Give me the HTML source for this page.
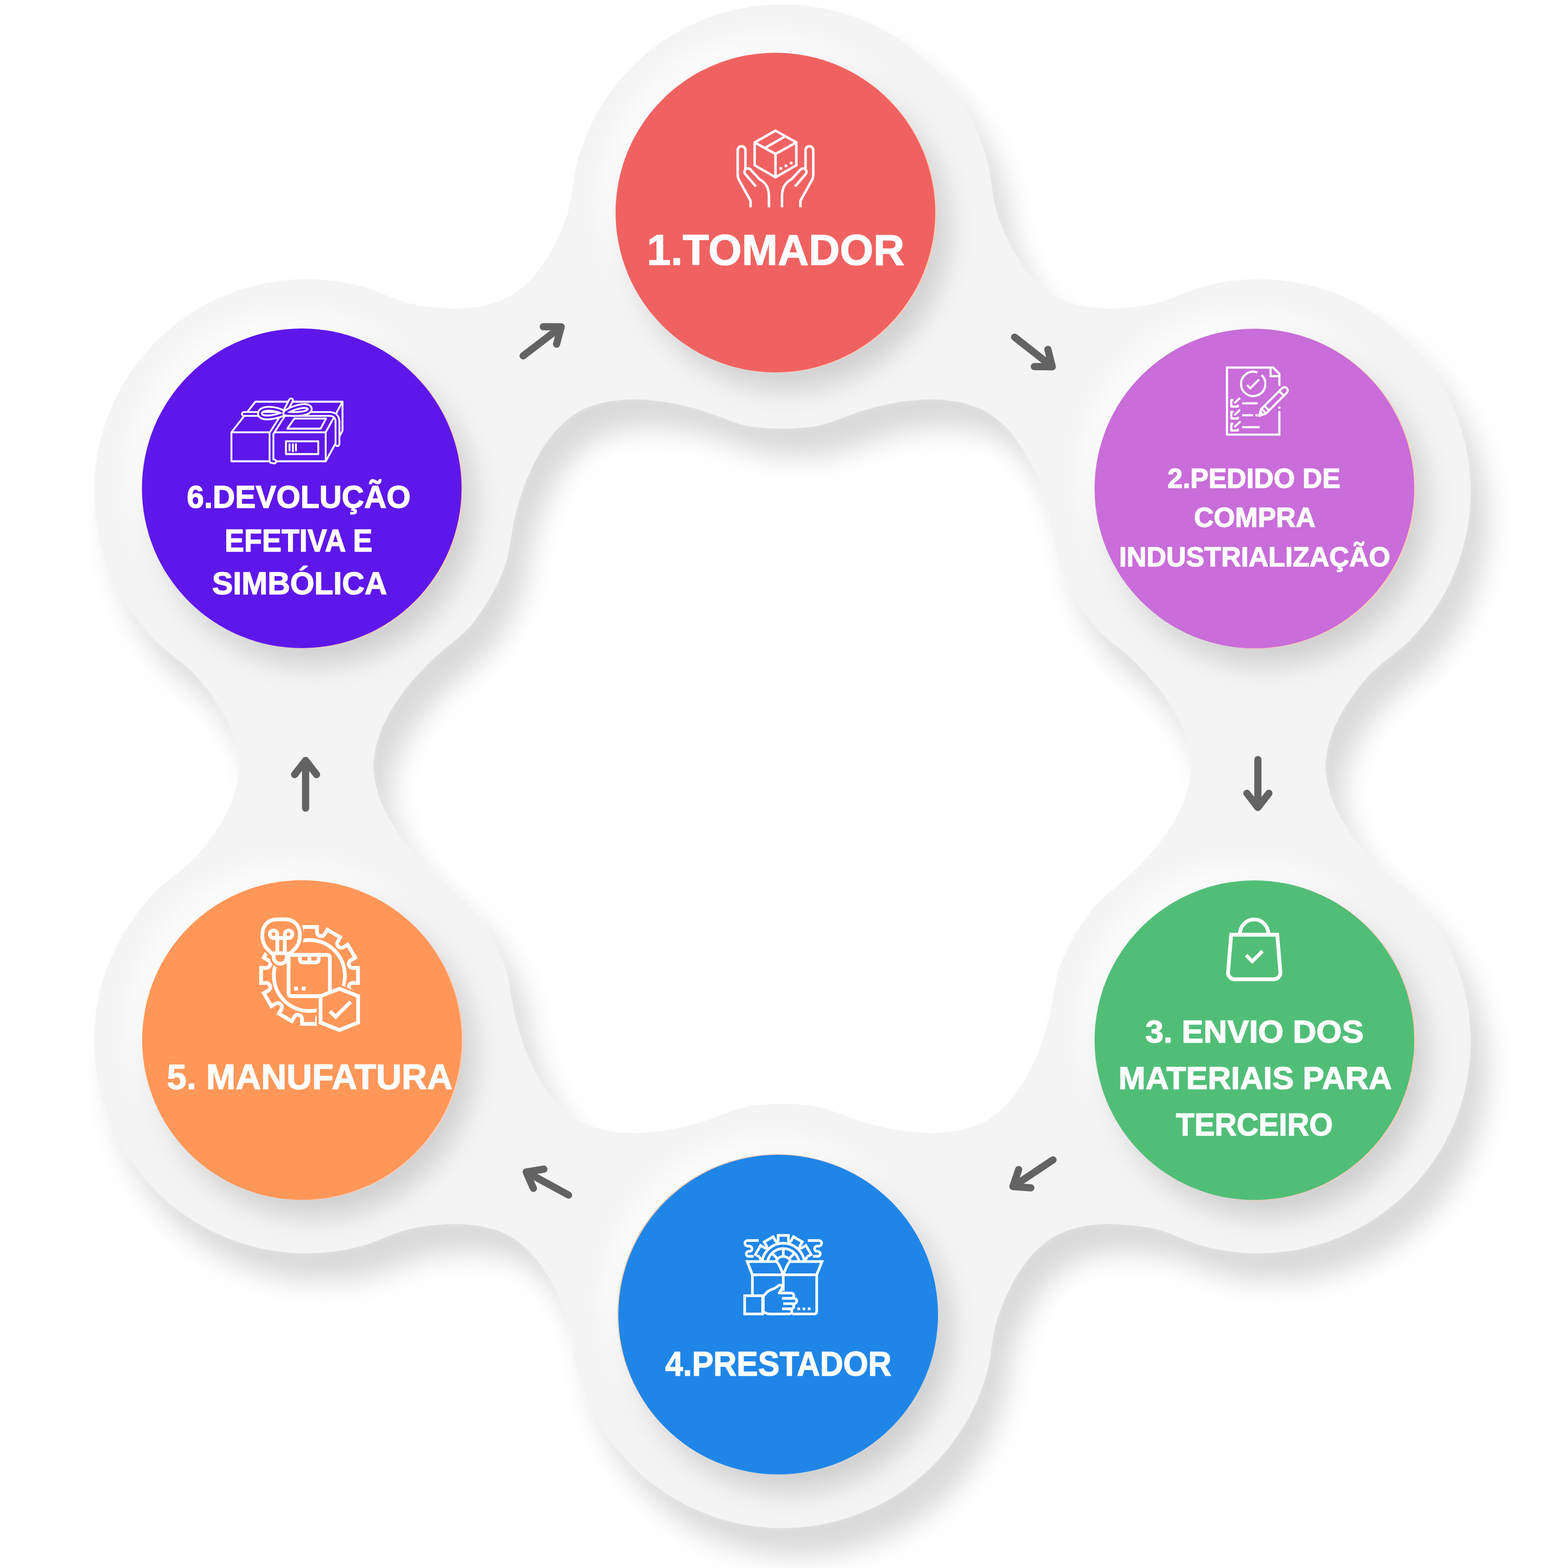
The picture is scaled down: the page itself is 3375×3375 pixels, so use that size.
<!DOCTYPE html>
<html lang="pt-BR">
<head>
<meta charset="utf-8">
<title>Ciclo de Industrialização</title>
<style>
html,body{margin:0;padding:0;background:#fff}
body{width:3375px;height:3375px;overflow:hidden}
svg{display:block}
text{font-family:"Liberation Sans",sans-serif;font-weight:700;fill:#fff}
</style>
</head>
<body>
<svg width="3375" height="3375" viewBox="0 0 3375 3375">
<defs>
<filter id="bs" x="-10%" y="-10%" width="120%" height="120%" color-interpolation-filters="sRGB"><feGaussianBlur stdDeviation="28"/></filter>
<filter id="bh" x="-10%" y="-10%" width="120%" height="120%" color-interpolation-filters="sRGB"><feGaussianBlur stdDeviation="8"/></filter>
<filter id="cs" x="-30%" y="-30%" width="160%" height="160%" color-interpolation-filters="sRGB"><feGaussianBlur stdDeviation="28"/></filter>
<filter id="cg" x="-30%" y="-30%" width="160%" height="160%" color-interpolation-filters="sRGB"><feGaussianBlur stdDeviation="32"/></filter>
<clipPath id="blobclip"><path clip-rule="evenodd" d="M2112.3 307.5 L2115.0 314.9 L2117.5 322.5 L2120.0 330.1 L2122.4 338.0 L2124.8 345.9 L2126.9 354.3 L2128.8 363.0 L2130.4 372.1 L2131.9 381.5 L2133.3 391.1 L2134.7 400.8 L2136.0 410.4 L2137.5 419.9 L2139.1 429.2 L2140.8 438.1 L2142.8 446.7 L2145.0 454.9 L2147.4 462.7 L2150.0 470.2 L2152.7 477.5 L2155.5 484.6 L2158.4 491.7 L2161.3 498.6 L2164.3 505.4 L2167.4 512.2 L2170.5 518.8 L2173.6 525.3 L2176.9 531.7 L2180.2 537.9 L2183.6 544.1 L2187.0 550.1 L2190.6 556.0 L2194.2 561.7 L2197.9 567.3 L2201.7 572.7 L2205.5 578.0 L2209.5 583.2 L2213.5 588.2 L2217.6 593.1 L2221.8 597.8 L2226.1 602.4 L2230.5 606.8 L2234.9 611.1 L2239.5 615.2 L2244.1 619.2 L2248.8 623.1 L2253.6 626.8 L2258.5 630.3 L2263.4 633.7 L2268.6 636.9 L2273.8 639.7 L2279.3 642.3 L2284.8 644.8 L2290.4 647.1 L2296.1 649.2 L2301.8 651.2 L2307.7 653.1 L2313.6 654.8 L2319.6 656.4 L2325.7 657.8 L2331.9 659.1 L2338.2 660.2 L2344.6 661.2 L2351.0 662.0 L2357.6 662.7 L2364.2 663.3 L2370.9 663.7 L2377.6 664.0 L2384.5 664.1 L2391.4 664.1 L2398.4 663.9 L2405.5 663.7 L2412.7 663.3 L2419.9 662.8 L2427.2 662.2 L2434.5 661.4 L2441.9 660.6 L2449.4 659.7 L2456.9 658.6 L2464.5 657.5 L2472.2 656.2 L2480.0 654.7 L2487.9 652.9 L2496.1 650.7 L2504.5 648.1 L2513.2 645.2 L2522.0 641.9 L2531.0 638.4 L2540.0 634.8 L2549.0 631.1 L2558.0 627.5 L2566.9 624.1 L2575.6 621.0 L2584.1 618.3 L2592.4 615.9 L2600.5 614.0 L2608.5 612.1 L2616.4 610.5 L2624.2 608.9 L2631.9 607.5 A456.75 456.75 0 0 1 3060.2 1349.3 L3055.1 1355.3 L3049.9 1361.3 L3044.5 1367.3 L3038.9 1373.3 L3033.2 1379.3 L3027.0 1385.3 L3020.4 1391.3 L3013.3 1397.3 L3005.9 1403.3 L2998.3 1409.3 L2990.6 1415.3 L2983.0 1421.3 L2975.5 1427.3 L2968.2 1433.3 L2961.3 1439.3 L2954.9 1445.3 L2949.0 1451.3 L2943.4 1457.3 L2938.2 1463.3 L2933.2 1469.3 L2928.4 1475.3 L2923.8 1481.3 L2919.2 1487.3 L2914.8 1493.3 L2910.5 1499.3 L2906.3 1505.3 L2902.3 1511.3 L2898.4 1517.3 L2894.6 1523.3 L2891.0 1529.3 L2887.5 1535.3 L2884.2 1541.3 L2881.0 1547.3 L2878.1 1553.3 L2875.2 1559.3 L2872.6 1565.3 L2870.1 1571.3 L2867.7 1577.3 L2865.6 1583.3 L2863.6 1589.3 L2861.7 1595.3 L2860.1 1601.3 L2858.6 1607.3 L2857.3 1613.3 L2856.2 1619.3 L2855.2 1625.3 L2854.4 1631.3 L2853.7 1637.3 L2853.3 1643.3 L2853.1 1649.3 L2853.3 1655.3 L2853.7 1661.3 L2854.4 1667.3 L2855.2 1673.3 L2856.2 1679.3 L2857.3 1685.3 L2858.6 1691.3 L2860.1 1697.3 L2861.7 1703.3 L2863.6 1709.3 L2865.6 1715.3 L2867.7 1721.3 L2870.1 1727.3 L2872.6 1733.3 L2875.2 1739.3 L2878.1 1745.3 L2881.0 1751.3 L2884.2 1757.3 L2887.5 1763.3 L2891.0 1769.3 L2894.6 1775.3 L2898.4 1781.3 L2902.3 1787.3 L2906.3 1793.3 L2910.5 1799.3 L2914.8 1805.3 L2919.2 1811.3 L2923.8 1817.3 L2928.4 1823.3 L2933.2 1829.3 L2938.2 1835.3 L2943.4 1841.3 L2949.0 1847.3 L2954.9 1853.3 L2961.3 1859.3 L2968.2 1865.3 L2975.5 1871.3 L2983.0 1877.3 L2990.6 1883.3 L2998.3 1889.3 L3005.9 1895.3 L3013.3 1901.3 L3020.4 1907.3 L3027.0 1913.3 L3033.2 1919.3 L3038.9 1925.3 L3044.5 1931.3 L3049.9 1937.3 L3055.1 1943.3 L3060.2 1949.3 A456.75 456.75 0 0 1 2631.9 2691.2 L2624.2 2689.8 L2616.4 2688.2 L2608.5 2686.6 L2600.5 2684.7 L2592.4 2682.8 L2584.1 2680.4 L2575.6 2677.7 L2566.9 2674.6 L2558.0 2671.2 L2549.0 2667.6 L2540.0 2663.9 L2531.0 2660.3 L2522.0 2656.8 L2513.2 2653.5 L2504.5 2650.6 L2496.1 2648.0 L2487.9 2645.8 L2480.0 2644.0 L2472.2 2642.5 L2464.5 2641.2 L2456.9 2640.1 L2449.4 2639.0 L2441.9 2638.1 L2434.5 2637.3 L2427.2 2636.5 L2419.9 2635.9 L2412.7 2635.4 L2405.5 2635.0 L2398.4 2634.8 L2391.4 2634.6 L2384.5 2634.6 L2377.6 2634.7 L2370.9 2635.0 L2364.2 2635.4 L2357.6 2636.0 L2351.0 2636.7 L2344.6 2637.5 L2338.2 2638.5 L2331.9 2639.6 L2325.7 2640.9 L2319.6 2642.3 L2313.6 2643.9 L2307.7 2645.6 L2301.8 2647.5 L2296.1 2649.5 L2290.4 2651.6 L2284.8 2653.9 L2279.3 2656.4 L2273.8 2659.0 L2268.6 2661.8 L2263.4 2665.0 L2258.5 2668.4 L2253.6 2671.9 L2248.8 2675.6 L2244.1 2679.5 L2239.5 2683.5 L2234.9 2687.6 L2230.5 2691.9 L2226.1 2696.3 L2221.8 2700.9 L2217.6 2705.6 L2213.5 2710.5 L2209.5 2715.5 L2205.5 2720.7 L2201.7 2726.0 L2197.9 2731.4 L2194.2 2737.0 L2190.6 2742.7 L2187.0 2748.6 L2183.6 2754.6 L2180.2 2760.8 L2176.9 2767.0 L2173.6 2773.4 L2170.5 2779.9 L2167.4 2786.5 L2164.3 2793.3 L2161.3 2800.1 L2158.4 2807.0 L2155.5 2814.1 L2152.7 2821.2 L2150.0 2828.5 L2147.4 2836.0 L2145.0 2843.8 L2142.8 2852.0 L2140.8 2860.6 L2139.1 2869.5 L2137.5 2878.8 L2136.0 2888.3 L2134.7 2897.9 L2133.3 2907.6 L2131.9 2917.2 L2130.4 2926.6 L2128.8 2935.7 L2126.9 2944.4 L2124.8 2952.8 L2122.4 2960.7 L2120.0 2968.6 L2117.5 2976.2 L2115.0 2983.8 L2112.3 2991.2 A456.75 456.75 0 0 1 1255.7 2991.2 L1253.0 2983.8 L1250.5 2976.2 L1248.0 2968.6 L1245.6 2960.7 L1243.2 2952.8 L1241.1 2944.4 L1239.2 2935.7 L1237.6 2926.6 L1236.1 2917.2 L1234.7 2907.6 L1233.3 2897.9 L1232.0 2888.3 L1230.5 2878.8 L1228.9 2869.5 L1227.2 2860.6 L1225.2 2852.0 L1223.0 2843.8 L1220.6 2836.0 L1218.0 2828.5 L1215.3 2821.2 L1212.5 2814.1 L1209.6 2807.0 L1206.7 2800.1 L1203.7 2793.3 L1200.6 2786.5 L1197.5 2779.9 L1194.4 2773.4 L1191.1 2767.0 L1187.8 2760.8 L1184.4 2754.6 L1181.0 2748.6 L1177.4 2742.7 L1173.8 2737.0 L1170.1 2731.4 L1166.3 2726.0 L1162.5 2720.7 L1158.5 2715.5 L1154.5 2710.5 L1150.4 2705.6 L1146.2 2700.9 L1141.9 2696.3 L1137.5 2691.9 L1133.1 2687.6 L1128.5 2683.5 L1123.9 2679.5 L1119.2 2675.6 L1114.4 2671.9 L1109.5 2668.4 L1104.6 2665.0 L1099.4 2661.8 L1094.2 2659.0 L1088.7 2656.4 L1083.2 2653.9 L1077.6 2651.6 L1071.9 2649.5 L1066.2 2647.5 L1060.3 2645.6 L1054.4 2643.9 L1048.4 2642.3 L1042.3 2640.9 L1036.1 2639.6 L1029.8 2638.5 L1023.4 2637.5 L1017.0 2636.7 L1010.4 2636.0 L1003.8 2635.4 L997.1 2635.0 L990.4 2634.7 L983.5 2634.6 L976.6 2634.6 L969.6 2634.8 L962.5 2635.0 L955.3 2635.4 L948.1 2635.9 L940.8 2636.5 L933.5 2637.3 L926.1 2638.1 L918.6 2639.0 L911.1 2640.1 L903.5 2641.2 L895.8 2642.5 L888.0 2644.0 L880.1 2645.8 L871.9 2648.0 L863.5 2650.6 L854.8 2653.5 L846.0 2656.8 L837.0 2660.3 L828.0 2663.9 L819.0 2667.6 L810.0 2671.2 L801.1 2674.6 L792.4 2677.7 L783.9 2680.4 L775.6 2682.8 L767.5 2684.7 L759.5 2686.6 L751.6 2688.2 L743.8 2689.8 L736.1 2691.2 A456.75 456.75 0 0 1 307.8 1949.3 L312.9 1943.3 L318.1 1937.3 L323.5 1931.3 L329.1 1925.3 L334.8 1919.3 L341.0 1913.3 L347.6 1907.3 L354.7 1901.3 L362.1 1895.3 L369.7 1889.3 L377.4 1883.3 L385.0 1877.3 L392.5 1871.3 L399.8 1865.3 L406.7 1859.3 L413.1 1853.3 L419.0 1847.3 L424.6 1841.3 L429.8 1835.3 L434.8 1829.3 L439.6 1823.3 L444.2 1817.3 L448.8 1811.3 L453.2 1805.3 L457.5 1799.3 L461.7 1793.3 L465.7 1787.3 L469.6 1781.3 L473.4 1775.3 L477.0 1769.3 L480.5 1763.3 L483.8 1757.3 L487.0 1751.3 L489.9 1745.3 L492.8 1739.3 L495.4 1733.3 L497.9 1727.3 L500.3 1721.3 L502.4 1715.3 L504.4 1709.3 L506.3 1703.3 L507.9 1697.3 L509.4 1691.3 L510.7 1685.3 L511.8 1679.3 L512.8 1673.3 L513.6 1667.3 L514.3 1661.3 L514.7 1655.3 L514.9 1649.3 L514.7 1643.3 L514.3 1637.3 L513.6 1631.3 L512.8 1625.3 L511.8 1619.3 L510.7 1613.3 L509.4 1607.3 L507.9 1601.3 L506.3 1595.3 L504.4 1589.3 L502.4 1583.3 L500.3 1577.3 L497.9 1571.3 L495.4 1565.3 L492.8 1559.3 L489.9 1553.3 L487.0 1547.3 L483.8 1541.3 L480.5 1535.3 L477.0 1529.3 L473.4 1523.3 L469.6 1517.3 L465.7 1511.3 L461.7 1505.3 L457.5 1499.3 L453.2 1493.3 L448.8 1487.3 L444.2 1481.3 L439.6 1475.3 L434.8 1469.3 L429.8 1463.3 L424.6 1457.3 L419.0 1451.3 L413.1 1445.3 L406.7 1439.3 L399.8 1433.3 L392.5 1427.3 L385.0 1421.3 L377.4 1415.3 L369.7 1409.3 L362.1 1403.3 L354.7 1397.3 L347.6 1391.3 L341.0 1385.3 L334.8 1379.3 L329.1 1373.3 L323.5 1367.3 L318.1 1361.3 L312.9 1355.3 L307.8 1349.3 A456.75 456.75 0 0 1 736.1 607.5 L743.8 608.9 L751.6 610.5 L759.5 612.1 L767.5 614.0 L775.6 615.9 L783.9 618.3 L792.4 621.0 L801.1 624.1 L810.0 627.5 L819.0 631.1 L828.0 634.8 L837.0 638.4 L846.0 641.9 L854.8 645.2 L863.5 648.1 L871.9 650.7 L880.1 652.9 L888.0 654.7 L895.8 656.2 L903.5 657.5 L911.1 658.6 L918.6 659.7 L926.1 660.6 L933.5 661.4 L940.8 662.2 L948.1 662.8 L955.3 663.3 L962.5 663.7 L969.6 663.9 L976.6 664.1 L983.5 664.1 L990.4 664.0 L997.1 663.7 L1003.8 663.3 L1010.4 662.7 L1017.0 662.0 L1023.4 661.2 L1029.8 660.2 L1036.1 659.1 L1042.3 657.8 L1048.4 656.4 L1054.4 654.8 L1060.3 653.1 L1066.2 651.2 L1071.9 649.2 L1077.6 647.1 L1083.2 644.8 L1088.7 642.3 L1094.2 639.7 L1099.4 636.9 L1104.6 633.7 L1109.5 630.3 L1114.4 626.8 L1119.2 623.1 L1123.9 619.2 L1128.5 615.2 L1133.1 611.1 L1137.5 606.8 L1141.9 602.4 L1146.2 597.8 L1150.4 593.1 L1154.5 588.2 L1158.5 583.2 L1162.5 578.0 L1166.3 572.7 L1170.1 567.3 L1173.8 561.7 L1177.4 556.0 L1181.0 550.1 L1184.4 544.1 L1187.8 537.9 L1191.1 531.7 L1194.4 525.3 L1197.5 518.8 L1200.6 512.2 L1203.7 505.4 L1206.7 498.6 L1209.6 491.7 L1212.5 484.6 L1215.3 477.5 L1218.0 470.2 L1220.6 462.7 L1223.0 454.9 L1225.2 446.7 L1227.2 438.1 L1228.9 429.2 L1230.5 419.9 L1232.0 410.4 L1233.3 400.8 L1234.7 391.1 L1236.1 381.5 L1237.6 372.1 L1239.2 363.0 L1241.1 354.3 L1243.2 345.9 L1245.6 338.0 L1248.0 330.1 L1250.5 322.5 L1253.0 314.9 L1255.7 307.5 A456.75 456.75 0 0 1 2112.3 307.5 Z M1738.0 919.7 L1745.4 918.9 L1753.0 917.9 L1760.8 916.4 L1768.8 914.5 L1777.0 912.2 L1785.5 909.6 L1794.1 906.7 L1802.8 903.5 L1811.7 900.2 L1820.6 896.8 L1829.4 893.5 L1838.2 890.2 L1847.0 887.1 L1855.5 884.3 L1863.9 881.8 L1872.1 879.5 L1880.3 877.3 L1888.4 875.3 L1896.4 873.4 L1904.4 871.5 L1912.4 869.8 L1920.3 868.1 L1928.1 866.6 L1935.8 865.2 L1943.4 864.1 L1950.9 863.2 L1958.2 862.4 L1965.6 861.7 L1972.8 861.1 L1980.0 860.6 L1987.2 860.3 L1994.2 860.0 L2001.3 859.8 L2008.2 859.8 L2015.1 859.9 L2021.8 860.2 L2028.5 860.6 L2035.1 861.2 L2041.6 861.9 L2048.1 862.7 L2054.5 863.7 L2060.7 864.8 L2066.9 866.1 L2073.1 867.5 L2079.1 869.1 L2085.0 870.8 L2090.9 872.7 L2096.6 874.7 L2102.3 876.8 L2107.9 879.1 L2113.4 881.6 L2118.8 884.2 L2124.1 887.0 L2129.2 890.2 L2134.2 893.6 L2139.1 897.1 L2143.9 900.8 L2148.6 904.7 L2153.2 908.7 L2157.8 912.8 L2162.2 917.1 L2166.6 921.5 L2170.9 926.1 L2175.1 930.8 L2179.2 935.7 L2183.2 940.7 L2187.1 945.9 L2191.0 951.2 L2194.8 956.6 L2198.5 962.2 L2202.1 967.9 L2205.7 973.8 L2209.1 979.8 L2212.5 986.0 L2215.8 992.3 L2219.0 998.6 L2222.2 1005.1 L2225.4 1011.7 L2228.4 1018.4 L2231.4 1025.2 L2234.4 1032.1 L2237.2 1039.2 L2239.9 1046.6 L2242.5 1054.1 L2245.0 1061.8 L2247.4 1069.5 L2249.8 1077.4 L2252.1 1085.3 L2254.4 1093.3 L2256.7 1101.5 L2258.8 1109.8 L2260.8 1118.3 L2262.6 1127.1 L2264.3 1136.2 L2265.9 1145.5 L2267.4 1154.8 L2268.9 1164.2 L2270.5 1173.5 L2272.1 1182.7 L2273.9 1191.6 L2275.9 1200.2 L2278.0 1208.5 L2280.4 1216.4 L2283.0 1223.9 L2285.8 1230.9 L2288.8 1237.7 A456.75 456.75 0 0 0 2342.9 1331.3 L2347.3 1337.3 L2352.0 1343.3 L2357.1 1349.3 L2362.8 1355.3 L2368.9 1361.3 L2375.4 1367.3 L2382.2 1373.3 L2389.3 1379.3 L2396.6 1385.3 L2404.0 1391.3 L2411.3 1397.3 L2418.6 1403.3 L2425.6 1409.3 L2432.3 1415.3 L2438.7 1421.3 L2444.8 1427.3 L2450.7 1433.3 L2456.5 1439.3 L2462.2 1445.3 L2467.8 1451.3 L2473.4 1457.3 L2478.7 1463.3 L2484.0 1469.3 L2489.0 1475.3 L2493.7 1481.3 L2498.3 1487.3 L2502.7 1493.3 L2506.9 1499.3 L2511.0 1505.3 L2515.0 1511.3 L2519.0 1517.3 L2522.7 1523.3 L2526.4 1529.3 L2529.9 1535.3 L2533.2 1541.3 L2536.3 1547.3 L2539.3 1553.3 L2542.1 1559.3 L2544.8 1565.3 L2547.3 1571.3 L2549.6 1577.3 L2551.8 1583.3 L2553.8 1589.3 L2555.6 1595.3 L2557.3 1601.3 L2558.8 1607.3 L2560.1 1613.3 L2561.2 1619.3 L2562.2 1625.3 L2563.0 1631.3 L2563.6 1637.3 L2564.1 1643.3 L2564.2 1649.3 L2564.1 1655.3 L2563.6 1661.3 L2563.0 1667.3 L2562.2 1673.3 L2561.2 1679.3 L2560.1 1685.3 L2558.8 1691.3 L2557.3 1697.3 L2555.6 1703.3 L2553.8 1709.3 L2551.8 1715.3 L2549.6 1721.3 L2547.3 1727.3 L2544.8 1733.3 L2542.1 1739.3 L2539.3 1745.3 L2536.3 1751.3 L2533.2 1757.3 L2529.9 1763.3 L2526.4 1769.3 L2522.7 1775.3 L2519.0 1781.3 L2515.0 1787.3 L2511.0 1793.3 L2506.9 1799.3 L2502.7 1805.3 L2498.3 1811.3 L2493.7 1817.3 L2489.0 1823.3 L2484.0 1829.3 L2478.7 1835.3 L2473.4 1841.3 L2467.8 1847.3 L2462.2 1853.3 L2456.5 1859.3 L2450.7 1865.3 L2444.8 1871.3 L2438.7 1877.3 L2432.3 1883.3 L2425.6 1889.3 L2418.6 1895.3 L2411.3 1901.3 L2404.0 1907.3 L2396.6 1913.3 L2389.3 1919.3 L2382.2 1925.3 L2375.4 1931.3 L2368.9 1937.3 L2362.8 1943.3 L2357.1 1949.3 L2352.0 1955.3 L2347.3 1961.3 L2342.9 1967.3 A456.75 456.75 0 0 0 2288.8 2061.0 L2285.8 2067.8 L2283.0 2074.8 L2280.4 2082.3 L2278.0 2090.2 L2275.9 2098.5 L2273.9 2107.1 L2272.1 2116.0 L2270.5 2125.2 L2268.9 2134.5 L2267.4 2143.9 L2265.9 2153.2 L2264.3 2162.5 L2262.6 2171.6 L2260.8 2180.4 L2258.8 2188.9 L2256.7 2197.2 L2254.4 2205.4 L2252.1 2213.4 L2249.8 2221.3 L2247.4 2229.2 L2245.0 2236.9 L2242.5 2244.6 L2239.9 2252.1 L2237.2 2259.5 L2234.4 2266.6 L2231.4 2273.5 L2228.4 2280.3 L2225.4 2287.0 L2222.2 2293.6 L2219.0 2300.1 L2215.8 2306.4 L2212.5 2312.7 L2209.1 2318.9 L2205.7 2324.9 L2202.1 2330.8 L2198.5 2336.5 L2194.8 2342.1 L2191.0 2347.5 L2187.1 2352.8 L2183.2 2358.0 L2179.2 2363.0 L2175.1 2367.9 L2170.9 2372.6 L2166.6 2377.2 L2162.2 2381.6 L2157.8 2385.9 L2153.2 2390.0 L2148.6 2394.0 L2143.9 2397.9 L2139.1 2401.6 L2134.2 2405.1 L2129.2 2408.5 L2124.1 2411.7 L2118.8 2414.5 L2113.4 2417.1 L2107.9 2419.6 L2102.3 2421.9 L2096.6 2424.0 L2090.9 2426.0 L2085.0 2427.9 L2079.1 2429.6 L2073.1 2431.2 L2066.9 2432.6 L2060.7 2433.9 L2054.5 2435.0 L2048.1 2436.0 L2041.6 2436.8 L2035.1 2437.5 L2028.5 2438.1 L2021.8 2438.5 L2015.1 2438.8 L2008.2 2438.9 L2001.3 2438.9 L1994.2 2438.7 L1987.2 2438.4 L1980.0 2438.1 L1972.8 2437.6 L1965.6 2437.0 L1958.2 2436.3 L1950.9 2435.5 L1943.4 2434.6 L1935.8 2433.5 L1928.1 2432.1 L1920.3 2430.6 L1912.4 2428.9 L1904.4 2427.2 L1896.4 2425.3 L1888.4 2423.4 L1880.3 2421.4 L1872.1 2419.2 L1863.9 2416.9 L1855.5 2414.4 L1847.0 2411.6 L1838.2 2408.5 L1829.4 2405.2 L1820.6 2401.9 L1811.7 2398.5 L1802.8 2395.2 L1794.1 2392.0 L1785.5 2389.1 L1777.0 2386.5 L1768.8 2384.2 L1760.8 2382.3 L1753.0 2380.8 L1745.4 2379.8 L1738.0 2379.0 A456.75 456.75 0 0 0 1630.0 2379.0 L1622.6 2379.8 L1615.0 2380.8 L1607.2 2382.3 L1599.2 2384.2 L1591.0 2386.5 L1582.5 2389.1 L1573.9 2392.0 L1565.2 2395.2 L1556.3 2398.5 L1547.4 2401.9 L1538.6 2405.2 L1529.8 2408.5 L1521.0 2411.6 L1512.5 2414.4 L1504.1 2416.9 L1495.9 2419.2 L1487.7 2421.4 L1479.6 2423.4 L1471.6 2425.3 L1463.6 2427.2 L1455.6 2428.9 L1447.7 2430.6 L1439.9 2432.1 L1432.2 2433.5 L1424.6 2434.6 L1417.1 2435.5 L1409.8 2436.3 L1402.4 2437.0 L1395.2 2437.6 L1388.0 2438.1 L1380.8 2438.4 L1373.8 2438.7 L1366.7 2438.9 L1359.8 2438.9 L1352.9 2438.8 L1346.2 2438.5 L1339.5 2438.1 L1332.9 2437.5 L1326.4 2436.8 L1319.9 2436.0 L1313.5 2435.0 L1307.3 2433.9 L1301.1 2432.6 L1294.9 2431.2 L1288.9 2429.6 L1283.0 2427.9 L1277.1 2426.0 L1271.4 2424.0 L1265.7 2421.9 L1260.1 2419.6 L1254.6 2417.1 L1249.2 2414.5 L1243.9 2411.7 L1238.8 2408.5 L1233.8 2405.1 L1228.9 2401.6 L1224.1 2397.9 L1219.4 2394.0 L1214.8 2390.0 L1210.2 2385.9 L1205.8 2381.6 L1201.4 2377.2 L1197.1 2372.6 L1192.9 2367.9 L1188.8 2363.0 L1184.8 2358.0 L1180.9 2352.8 L1177.0 2347.5 L1173.2 2342.1 L1169.5 2336.5 L1165.9 2330.8 L1162.3 2324.9 L1158.9 2318.9 L1155.5 2312.7 L1152.2 2306.4 L1149.0 2300.1 L1145.8 2293.6 L1142.6 2287.0 L1139.6 2280.3 L1136.6 2273.5 L1133.6 2266.6 L1130.8 2259.5 L1128.1 2252.1 L1125.5 2244.6 L1123.0 2236.9 L1120.6 2229.2 L1118.2 2221.3 L1115.9 2213.4 L1113.6 2205.4 L1111.3 2197.2 L1109.2 2188.9 L1107.2 2180.4 L1105.4 2171.6 L1103.7 2162.5 L1102.1 2153.2 L1100.6 2143.9 L1099.1 2134.5 L1097.5 2125.2 L1095.9 2116.0 L1094.1 2107.1 L1092.1 2098.5 L1090.0 2090.2 L1087.6 2082.3 L1085.0 2074.8 L1082.2 2067.8 L1079.2 2061.0 A456.75 456.75 0 0 0 1025.1 1967.3 L1020.7 1961.3 L1016.0 1955.3 L1010.9 1949.3 L1005.2 1943.3 L999.1 1937.3 L992.6 1931.3 L985.8 1925.3 L978.7 1919.3 L971.4 1913.3 L964.0 1907.3 L956.7 1901.3 L949.4 1895.3 L942.4 1889.3 L935.7 1883.3 L929.3 1877.3 L923.2 1871.3 L917.3 1865.3 L911.5 1859.3 L905.8 1853.3 L900.2 1847.3 L894.6 1841.3 L889.3 1835.3 L884.0 1829.3 L879.0 1823.3 L874.3 1817.3 L869.7 1811.3 L865.3 1805.3 L861.1 1799.3 L857.0 1793.3 L853.0 1787.3 L849.0 1781.3 L845.3 1775.3 L841.6 1769.3 L838.1 1763.3 L834.8 1757.3 L831.7 1751.3 L828.7 1745.3 L825.9 1739.3 L823.2 1733.3 L820.7 1727.3 L818.4 1721.3 L816.2 1715.3 L814.2 1709.3 L812.4 1703.3 L810.7 1697.3 L809.2 1691.3 L807.9 1685.3 L806.8 1679.3 L805.8 1673.3 L805.0 1667.3 L804.4 1661.3 L803.9 1655.3 L803.8 1649.3 L803.9 1643.3 L804.4 1637.3 L805.0 1631.3 L805.8 1625.3 L806.8 1619.3 L807.9 1613.3 L809.2 1607.3 L810.7 1601.3 L812.4 1595.3 L814.2 1589.3 L816.2 1583.3 L818.4 1577.3 L820.7 1571.3 L823.2 1565.3 L825.9 1559.3 L828.7 1553.3 L831.7 1547.3 L834.8 1541.3 L838.1 1535.3 L841.6 1529.3 L845.3 1523.3 L849.0 1517.3 L853.0 1511.3 L857.0 1505.3 L861.1 1499.3 L865.3 1493.3 L869.7 1487.3 L874.3 1481.3 L879.0 1475.3 L884.0 1469.3 L889.3 1463.3 L894.6 1457.3 L900.2 1451.3 L905.8 1445.3 L911.5 1439.3 L917.3 1433.3 L923.2 1427.3 L929.3 1421.3 L935.7 1415.3 L942.4 1409.3 L949.4 1403.3 L956.7 1397.3 L964.0 1391.3 L971.4 1385.3 L978.7 1379.3 L985.8 1373.3 L992.6 1367.3 L999.1 1361.3 L1005.2 1355.3 L1010.9 1349.3 L1016.0 1343.3 L1020.7 1337.3 L1025.1 1331.3 A456.75 456.75 0 0 0 1079.2 1237.7 L1082.2 1230.9 L1085.0 1223.9 L1087.6 1216.4 L1090.0 1208.5 L1092.1 1200.2 L1094.1 1191.6 L1095.9 1182.7 L1097.5 1173.5 L1099.1 1164.2 L1100.6 1154.8 L1102.1 1145.5 L1103.7 1136.2 L1105.4 1127.1 L1107.2 1118.3 L1109.2 1109.8 L1111.3 1101.5 L1113.6 1093.3 L1115.9 1085.3 L1118.2 1077.4 L1120.6 1069.5 L1123.0 1061.8 L1125.5 1054.1 L1128.1 1046.6 L1130.8 1039.2 L1133.6 1032.1 L1136.6 1025.2 L1139.6 1018.4 L1142.6 1011.7 L1145.8 1005.1 L1149.0 998.6 L1152.2 992.3 L1155.5 986.0 L1158.9 979.8 L1162.3 973.8 L1165.9 967.9 L1169.5 962.2 L1173.2 956.6 L1177.0 951.2 L1180.9 945.9 L1184.8 940.7 L1188.8 935.7 L1192.9 930.8 L1197.1 926.1 L1201.4 921.5 L1205.8 917.1 L1210.2 912.8 L1214.8 908.7 L1219.4 904.7 L1224.1 900.8 L1228.9 897.1 L1233.8 893.6 L1238.8 890.2 L1243.9 887.0 L1249.2 884.2 L1254.6 881.6 L1260.1 879.1 L1265.7 876.8 L1271.4 874.7 L1277.1 872.7 L1283.0 870.8 L1288.9 869.1 L1294.9 867.5 L1301.1 866.1 L1307.3 864.8 L1313.5 863.7 L1319.9 862.7 L1326.4 861.9 L1332.9 861.2 L1339.5 860.6 L1346.2 860.2 L1352.9 859.9 L1359.8 859.8 L1366.7 859.8 L1373.8 860.0 L1380.8 860.3 L1388.0 860.6 L1395.2 861.1 L1402.4 861.7 L1409.8 862.4 L1417.1 863.2 L1424.6 864.1 L1432.2 865.2 L1439.9 866.6 L1447.7 868.1 L1455.6 869.8 L1463.6 871.5 L1471.6 873.4 L1479.6 875.3 L1487.7 877.3 L1495.9 879.5 L1504.1 881.8 L1512.5 884.3 L1521.0 887.1 L1529.8 890.2 L1538.6 893.5 L1547.4 896.8 L1556.3 900.2 L1565.2 903.5 L1573.9 906.7 L1582.5 909.6 L1591.0 912.2 L1599.2 914.5 L1607.2 916.4 L1615.0 917.9 L1622.6 918.9 L1630.0 919.7 A456.75 456.75 0 0 0 1738.0 919.7 Z"/></clipPath>
</defs>
<rect width="3375" height="3375" fill="#fff"/>
<g filter="url(#bs)"><path fill-rule="evenodd" fill="#000" fill-opacity="0.15" transform="translate(36 60)" d="M2112.3 307.5 L2115.0 314.9 L2117.5 322.5 L2120.0 330.1 L2122.4 338.0 L2124.8 345.9 L2126.9 354.3 L2128.8 363.0 L2130.4 372.1 L2131.9 381.5 L2133.3 391.1 L2134.7 400.8 L2136.0 410.4 L2137.5 419.9 L2139.1 429.2 L2140.8 438.1 L2142.8 446.7 L2145.0 454.9 L2147.4 462.7 L2150.0 470.2 L2152.7 477.5 L2155.5 484.6 L2158.4 491.7 L2161.3 498.6 L2164.3 505.4 L2167.4 512.2 L2170.5 518.8 L2173.6 525.3 L2176.9 531.7 L2180.2 537.9 L2183.6 544.1 L2187.0 550.1 L2190.6 556.0 L2194.2 561.7 L2197.9 567.3 L2201.7 572.7 L2205.5 578.0 L2209.5 583.2 L2213.5 588.2 L2217.6 593.1 L2221.8 597.8 L2226.1 602.4 L2230.5 606.8 L2234.9 611.1 L2239.5 615.2 L2244.1 619.2 L2248.8 623.1 L2253.6 626.8 L2258.5 630.3 L2263.4 633.7 L2268.6 636.9 L2273.8 639.7 L2279.3 642.3 L2284.8 644.8 L2290.4 647.1 L2296.1 649.2 L2301.8 651.2 L2307.7 653.1 L2313.6 654.8 L2319.6 656.4 L2325.7 657.8 L2331.9 659.1 L2338.2 660.2 L2344.6 661.2 L2351.0 662.0 L2357.6 662.7 L2364.2 663.3 L2370.9 663.7 L2377.6 664.0 L2384.5 664.1 L2391.4 664.1 L2398.4 663.9 L2405.5 663.7 L2412.7 663.3 L2419.9 662.8 L2427.2 662.2 L2434.5 661.4 L2441.9 660.6 L2449.4 659.7 L2456.9 658.6 L2464.5 657.5 L2472.2 656.2 L2480.0 654.7 L2487.9 652.9 L2496.1 650.7 L2504.5 648.1 L2513.2 645.2 L2522.0 641.9 L2531.0 638.4 L2540.0 634.8 L2549.0 631.1 L2558.0 627.5 L2566.9 624.1 L2575.6 621.0 L2584.1 618.3 L2592.4 615.9 L2600.5 614.0 L2608.5 612.1 L2616.4 610.5 L2624.2 608.9 L2631.9 607.5 A456.75 456.75 0 0 1 3060.2 1349.3 L3055.1 1355.3 L3049.9 1361.3 L3044.5 1367.3 L3038.9 1373.3 L3033.2 1379.3 L3027.0 1385.3 L3020.4 1391.3 L3013.3 1397.3 L3005.9 1403.3 L2998.3 1409.3 L2990.6 1415.3 L2983.0 1421.3 L2975.5 1427.3 L2968.2 1433.3 L2961.3 1439.3 L2954.9 1445.3 L2949.0 1451.3 L2943.4 1457.3 L2938.2 1463.3 L2933.2 1469.3 L2928.4 1475.3 L2923.8 1481.3 L2919.2 1487.3 L2914.8 1493.3 L2910.5 1499.3 L2906.3 1505.3 L2902.3 1511.3 L2898.4 1517.3 L2894.6 1523.3 L2891.0 1529.3 L2887.5 1535.3 L2884.2 1541.3 L2881.0 1547.3 L2878.1 1553.3 L2875.2 1559.3 L2872.6 1565.3 L2870.1 1571.3 L2867.7 1577.3 L2865.6 1583.3 L2863.6 1589.3 L2861.7 1595.3 L2860.1 1601.3 L2858.6 1607.3 L2857.3 1613.3 L2856.2 1619.3 L2855.2 1625.3 L2854.4 1631.3 L2853.7 1637.3 L2853.3 1643.3 L2853.1 1649.3 L2853.3 1655.3 L2853.7 1661.3 L2854.4 1667.3 L2855.2 1673.3 L2856.2 1679.3 L2857.3 1685.3 L2858.6 1691.3 L2860.1 1697.3 L2861.7 1703.3 L2863.6 1709.3 L2865.6 1715.3 L2867.7 1721.3 L2870.1 1727.3 L2872.6 1733.3 L2875.2 1739.3 L2878.1 1745.3 L2881.0 1751.3 L2884.2 1757.3 L2887.5 1763.3 L2891.0 1769.3 L2894.6 1775.3 L2898.4 1781.3 L2902.3 1787.3 L2906.3 1793.3 L2910.5 1799.3 L2914.8 1805.3 L2919.2 1811.3 L2923.8 1817.3 L2928.4 1823.3 L2933.2 1829.3 L2938.2 1835.3 L2943.4 1841.3 L2949.0 1847.3 L2954.9 1853.3 L2961.3 1859.3 L2968.2 1865.3 L2975.5 1871.3 L2983.0 1877.3 L2990.6 1883.3 L2998.3 1889.3 L3005.9 1895.3 L3013.3 1901.3 L3020.4 1907.3 L3027.0 1913.3 L3033.2 1919.3 L3038.9 1925.3 L3044.5 1931.3 L3049.9 1937.3 L3055.1 1943.3 L3060.2 1949.3 A456.75 456.75 0 0 1 2631.9 2691.2 L2624.2 2689.8 L2616.4 2688.2 L2608.5 2686.6 L2600.5 2684.7 L2592.4 2682.8 L2584.1 2680.4 L2575.6 2677.7 L2566.9 2674.6 L2558.0 2671.2 L2549.0 2667.6 L2540.0 2663.9 L2531.0 2660.3 L2522.0 2656.8 L2513.2 2653.5 L2504.5 2650.6 L2496.1 2648.0 L2487.9 2645.8 L2480.0 2644.0 L2472.2 2642.5 L2464.5 2641.2 L2456.9 2640.1 L2449.4 2639.0 L2441.9 2638.1 L2434.5 2637.3 L2427.2 2636.5 L2419.9 2635.9 L2412.7 2635.4 L2405.5 2635.0 L2398.4 2634.8 L2391.4 2634.6 L2384.5 2634.6 L2377.6 2634.7 L2370.9 2635.0 L2364.2 2635.4 L2357.6 2636.0 L2351.0 2636.7 L2344.6 2637.5 L2338.2 2638.5 L2331.9 2639.6 L2325.7 2640.9 L2319.6 2642.3 L2313.6 2643.9 L2307.7 2645.6 L2301.8 2647.5 L2296.1 2649.5 L2290.4 2651.6 L2284.8 2653.9 L2279.3 2656.4 L2273.8 2659.0 L2268.6 2661.8 L2263.4 2665.0 L2258.5 2668.4 L2253.6 2671.9 L2248.8 2675.6 L2244.1 2679.5 L2239.5 2683.5 L2234.9 2687.6 L2230.5 2691.9 L2226.1 2696.3 L2221.8 2700.9 L2217.6 2705.6 L2213.5 2710.5 L2209.5 2715.5 L2205.5 2720.7 L2201.7 2726.0 L2197.9 2731.4 L2194.2 2737.0 L2190.6 2742.7 L2187.0 2748.6 L2183.6 2754.6 L2180.2 2760.8 L2176.9 2767.0 L2173.6 2773.4 L2170.5 2779.9 L2167.4 2786.5 L2164.3 2793.3 L2161.3 2800.1 L2158.4 2807.0 L2155.5 2814.1 L2152.7 2821.2 L2150.0 2828.5 L2147.4 2836.0 L2145.0 2843.8 L2142.8 2852.0 L2140.8 2860.6 L2139.1 2869.5 L2137.5 2878.8 L2136.0 2888.3 L2134.7 2897.9 L2133.3 2907.6 L2131.9 2917.2 L2130.4 2926.6 L2128.8 2935.7 L2126.9 2944.4 L2124.8 2952.8 L2122.4 2960.7 L2120.0 2968.6 L2117.5 2976.2 L2115.0 2983.8 L2112.3 2991.2 A456.75 456.75 0 0 1 1255.7 2991.2 L1253.0 2983.8 L1250.5 2976.2 L1248.0 2968.6 L1245.6 2960.7 L1243.2 2952.8 L1241.1 2944.4 L1239.2 2935.7 L1237.6 2926.6 L1236.1 2917.2 L1234.7 2907.6 L1233.3 2897.9 L1232.0 2888.3 L1230.5 2878.8 L1228.9 2869.5 L1227.2 2860.6 L1225.2 2852.0 L1223.0 2843.8 L1220.6 2836.0 L1218.0 2828.5 L1215.3 2821.2 L1212.5 2814.1 L1209.6 2807.0 L1206.7 2800.1 L1203.7 2793.3 L1200.6 2786.5 L1197.5 2779.9 L1194.4 2773.4 L1191.1 2767.0 L1187.8 2760.8 L1184.4 2754.6 L1181.0 2748.6 L1177.4 2742.7 L1173.8 2737.0 L1170.1 2731.4 L1166.3 2726.0 L1162.5 2720.7 L1158.5 2715.5 L1154.5 2710.5 L1150.4 2705.6 L1146.2 2700.9 L1141.9 2696.3 L1137.5 2691.9 L1133.1 2687.6 L1128.5 2683.5 L1123.9 2679.5 L1119.2 2675.6 L1114.4 2671.9 L1109.5 2668.4 L1104.6 2665.0 L1099.4 2661.8 L1094.2 2659.0 L1088.7 2656.4 L1083.2 2653.9 L1077.6 2651.6 L1071.9 2649.5 L1066.2 2647.5 L1060.3 2645.6 L1054.4 2643.9 L1048.4 2642.3 L1042.3 2640.9 L1036.1 2639.6 L1029.8 2638.5 L1023.4 2637.5 L1017.0 2636.7 L1010.4 2636.0 L1003.8 2635.4 L997.1 2635.0 L990.4 2634.7 L983.5 2634.6 L976.6 2634.6 L969.6 2634.8 L962.5 2635.0 L955.3 2635.4 L948.1 2635.9 L940.8 2636.5 L933.5 2637.3 L926.1 2638.1 L918.6 2639.0 L911.1 2640.1 L903.5 2641.2 L895.8 2642.5 L888.0 2644.0 L880.1 2645.8 L871.9 2648.0 L863.5 2650.6 L854.8 2653.5 L846.0 2656.8 L837.0 2660.3 L828.0 2663.9 L819.0 2667.6 L810.0 2671.2 L801.1 2674.6 L792.4 2677.7 L783.9 2680.4 L775.6 2682.8 L767.5 2684.7 L759.5 2686.6 L751.6 2688.2 L743.8 2689.8 L736.1 2691.2 A456.75 456.75 0 0 1 307.8 1949.3 L312.9 1943.3 L318.1 1937.3 L323.5 1931.3 L329.1 1925.3 L334.8 1919.3 L341.0 1913.3 L347.6 1907.3 L354.7 1901.3 L362.1 1895.3 L369.7 1889.3 L377.4 1883.3 L385.0 1877.3 L392.5 1871.3 L399.8 1865.3 L406.7 1859.3 L413.1 1853.3 L419.0 1847.3 L424.6 1841.3 L429.8 1835.3 L434.8 1829.3 L439.6 1823.3 L444.2 1817.3 L448.8 1811.3 L453.2 1805.3 L457.5 1799.3 L461.7 1793.3 L465.7 1787.3 L469.6 1781.3 L473.4 1775.3 L477.0 1769.3 L480.5 1763.3 L483.8 1757.3 L487.0 1751.3 L489.9 1745.3 L492.8 1739.3 L495.4 1733.3 L497.9 1727.3 L500.3 1721.3 L502.4 1715.3 L504.4 1709.3 L506.3 1703.3 L507.9 1697.3 L509.4 1691.3 L510.7 1685.3 L511.8 1679.3 L512.8 1673.3 L513.6 1667.3 L514.3 1661.3 L514.7 1655.3 L514.9 1649.3 L514.7 1643.3 L514.3 1637.3 L513.6 1631.3 L512.8 1625.3 L511.8 1619.3 L510.7 1613.3 L509.4 1607.3 L507.9 1601.3 L506.3 1595.3 L504.4 1589.3 L502.4 1583.3 L500.3 1577.3 L497.9 1571.3 L495.4 1565.3 L492.8 1559.3 L489.9 1553.3 L487.0 1547.3 L483.8 1541.3 L480.5 1535.3 L477.0 1529.3 L473.4 1523.3 L469.6 1517.3 L465.7 1511.3 L461.7 1505.3 L457.5 1499.3 L453.2 1493.3 L448.8 1487.3 L444.2 1481.3 L439.6 1475.3 L434.8 1469.3 L429.8 1463.3 L424.6 1457.3 L419.0 1451.3 L413.1 1445.3 L406.7 1439.3 L399.8 1433.3 L392.5 1427.3 L385.0 1421.3 L377.4 1415.3 L369.7 1409.3 L362.1 1403.3 L354.7 1397.3 L347.6 1391.3 L341.0 1385.3 L334.8 1379.3 L329.1 1373.3 L323.5 1367.3 L318.1 1361.3 L312.9 1355.3 L307.8 1349.3 A456.75 456.75 0 0 1 736.1 607.5 L743.8 608.9 L751.6 610.5 L759.5 612.1 L767.5 614.0 L775.6 615.9 L783.9 618.3 L792.4 621.0 L801.1 624.1 L810.0 627.5 L819.0 631.1 L828.0 634.8 L837.0 638.4 L846.0 641.9 L854.8 645.2 L863.5 648.1 L871.9 650.7 L880.1 652.9 L888.0 654.7 L895.8 656.2 L903.5 657.5 L911.1 658.6 L918.6 659.7 L926.1 660.6 L933.5 661.4 L940.8 662.2 L948.1 662.8 L955.3 663.3 L962.5 663.7 L969.6 663.9 L976.6 664.1 L983.5 664.1 L990.4 664.0 L997.1 663.7 L1003.8 663.3 L1010.4 662.7 L1017.0 662.0 L1023.4 661.2 L1029.8 660.2 L1036.1 659.1 L1042.3 657.8 L1048.4 656.4 L1054.4 654.8 L1060.3 653.1 L1066.2 651.2 L1071.9 649.2 L1077.6 647.1 L1083.2 644.8 L1088.7 642.3 L1094.2 639.7 L1099.4 636.9 L1104.6 633.7 L1109.5 630.3 L1114.4 626.8 L1119.2 623.1 L1123.9 619.2 L1128.5 615.2 L1133.1 611.1 L1137.5 606.8 L1141.9 602.4 L1146.2 597.8 L1150.4 593.1 L1154.5 588.2 L1158.5 583.2 L1162.5 578.0 L1166.3 572.7 L1170.1 567.3 L1173.8 561.7 L1177.4 556.0 L1181.0 550.1 L1184.4 544.1 L1187.8 537.9 L1191.1 531.7 L1194.4 525.3 L1197.5 518.8 L1200.6 512.2 L1203.7 505.4 L1206.7 498.6 L1209.6 491.7 L1212.5 484.6 L1215.3 477.5 L1218.0 470.2 L1220.6 462.7 L1223.0 454.9 L1225.2 446.7 L1227.2 438.1 L1228.9 429.2 L1230.5 419.9 L1232.0 410.4 L1233.3 400.8 L1234.7 391.1 L1236.1 381.5 L1237.6 372.1 L1239.2 363.0 L1241.1 354.3 L1243.2 345.9 L1245.6 338.0 L1248.0 330.1 L1250.5 322.5 L1253.0 314.9 L1255.7 307.5 A456.75 456.75 0 0 1 2112.3 307.5 Z M1738.0 919.7 L1745.4 918.9 L1753.0 917.9 L1760.8 916.4 L1768.8 914.5 L1777.0 912.2 L1785.5 909.6 L1794.1 906.7 L1802.8 903.5 L1811.7 900.2 L1820.6 896.8 L1829.4 893.5 L1838.2 890.2 L1847.0 887.1 L1855.5 884.3 L1863.9 881.8 L1872.1 879.5 L1880.3 877.3 L1888.4 875.3 L1896.4 873.4 L1904.4 871.5 L1912.4 869.8 L1920.3 868.1 L1928.1 866.6 L1935.8 865.2 L1943.4 864.1 L1950.9 863.2 L1958.2 862.4 L1965.6 861.7 L1972.8 861.1 L1980.0 860.6 L1987.2 860.3 L1994.2 860.0 L2001.3 859.8 L2008.2 859.8 L2015.1 859.9 L2021.8 860.2 L2028.5 860.6 L2035.1 861.2 L2041.6 861.9 L2048.1 862.7 L2054.5 863.7 L2060.7 864.8 L2066.9 866.1 L2073.1 867.5 L2079.1 869.1 L2085.0 870.8 L2090.9 872.7 L2096.6 874.7 L2102.3 876.8 L2107.9 879.1 L2113.4 881.6 L2118.8 884.2 L2124.1 887.0 L2129.2 890.2 L2134.2 893.6 L2139.1 897.1 L2143.9 900.8 L2148.6 904.7 L2153.2 908.7 L2157.8 912.8 L2162.2 917.1 L2166.6 921.5 L2170.9 926.1 L2175.1 930.8 L2179.2 935.7 L2183.2 940.7 L2187.1 945.9 L2191.0 951.2 L2194.8 956.6 L2198.5 962.2 L2202.1 967.9 L2205.7 973.8 L2209.1 979.8 L2212.5 986.0 L2215.8 992.3 L2219.0 998.6 L2222.2 1005.1 L2225.4 1011.7 L2228.4 1018.4 L2231.4 1025.2 L2234.4 1032.1 L2237.2 1039.2 L2239.9 1046.6 L2242.5 1054.1 L2245.0 1061.8 L2247.4 1069.5 L2249.8 1077.4 L2252.1 1085.3 L2254.4 1093.3 L2256.7 1101.5 L2258.8 1109.8 L2260.8 1118.3 L2262.6 1127.1 L2264.3 1136.2 L2265.9 1145.5 L2267.4 1154.8 L2268.9 1164.2 L2270.5 1173.5 L2272.1 1182.7 L2273.9 1191.6 L2275.9 1200.2 L2278.0 1208.5 L2280.4 1216.4 L2283.0 1223.9 L2285.8 1230.9 L2288.8 1237.7 A456.75 456.75 0 0 0 2342.9 1331.3 L2347.3 1337.3 L2352.0 1343.3 L2357.1 1349.3 L2362.8 1355.3 L2368.9 1361.3 L2375.4 1367.3 L2382.2 1373.3 L2389.3 1379.3 L2396.6 1385.3 L2404.0 1391.3 L2411.3 1397.3 L2418.6 1403.3 L2425.6 1409.3 L2432.3 1415.3 L2438.7 1421.3 L2444.8 1427.3 L2450.7 1433.3 L2456.5 1439.3 L2462.2 1445.3 L2467.8 1451.3 L2473.4 1457.3 L2478.7 1463.3 L2484.0 1469.3 L2489.0 1475.3 L2493.7 1481.3 L2498.3 1487.3 L2502.7 1493.3 L2506.9 1499.3 L2511.0 1505.3 L2515.0 1511.3 L2519.0 1517.3 L2522.7 1523.3 L2526.4 1529.3 L2529.9 1535.3 L2533.2 1541.3 L2536.3 1547.3 L2539.3 1553.3 L2542.1 1559.3 L2544.8 1565.3 L2547.3 1571.3 L2549.6 1577.3 L2551.8 1583.3 L2553.8 1589.3 L2555.6 1595.3 L2557.3 1601.3 L2558.8 1607.3 L2560.1 1613.3 L2561.2 1619.3 L2562.2 1625.3 L2563.0 1631.3 L2563.6 1637.3 L2564.1 1643.3 L2564.2 1649.3 L2564.1 1655.3 L2563.6 1661.3 L2563.0 1667.3 L2562.2 1673.3 L2561.2 1679.3 L2560.1 1685.3 L2558.8 1691.3 L2557.3 1697.3 L2555.6 1703.3 L2553.8 1709.3 L2551.8 1715.3 L2549.6 1721.3 L2547.3 1727.3 L2544.8 1733.3 L2542.1 1739.3 L2539.3 1745.3 L2536.3 1751.3 L2533.2 1757.3 L2529.9 1763.3 L2526.4 1769.3 L2522.7 1775.3 L2519.0 1781.3 L2515.0 1787.3 L2511.0 1793.3 L2506.9 1799.3 L2502.7 1805.3 L2498.3 1811.3 L2493.7 1817.3 L2489.0 1823.3 L2484.0 1829.3 L2478.7 1835.3 L2473.4 1841.3 L2467.8 1847.3 L2462.2 1853.3 L2456.5 1859.3 L2450.7 1865.3 L2444.8 1871.3 L2438.7 1877.3 L2432.3 1883.3 L2425.6 1889.3 L2418.6 1895.3 L2411.3 1901.3 L2404.0 1907.3 L2396.6 1913.3 L2389.3 1919.3 L2382.2 1925.3 L2375.4 1931.3 L2368.9 1937.3 L2362.8 1943.3 L2357.1 1949.3 L2352.0 1955.3 L2347.3 1961.3 L2342.9 1967.3 A456.75 456.75 0 0 0 2288.8 2061.0 L2285.8 2067.8 L2283.0 2074.8 L2280.4 2082.3 L2278.0 2090.2 L2275.9 2098.5 L2273.9 2107.1 L2272.1 2116.0 L2270.5 2125.2 L2268.9 2134.5 L2267.4 2143.9 L2265.9 2153.2 L2264.3 2162.5 L2262.6 2171.6 L2260.8 2180.4 L2258.8 2188.9 L2256.7 2197.2 L2254.4 2205.4 L2252.1 2213.4 L2249.8 2221.3 L2247.4 2229.2 L2245.0 2236.9 L2242.5 2244.6 L2239.9 2252.1 L2237.2 2259.5 L2234.4 2266.6 L2231.4 2273.5 L2228.4 2280.3 L2225.4 2287.0 L2222.2 2293.6 L2219.0 2300.1 L2215.8 2306.4 L2212.5 2312.7 L2209.1 2318.9 L2205.7 2324.9 L2202.1 2330.8 L2198.5 2336.5 L2194.8 2342.1 L2191.0 2347.5 L2187.1 2352.8 L2183.2 2358.0 L2179.2 2363.0 L2175.1 2367.9 L2170.9 2372.6 L2166.6 2377.2 L2162.2 2381.6 L2157.8 2385.9 L2153.2 2390.0 L2148.6 2394.0 L2143.9 2397.9 L2139.1 2401.6 L2134.2 2405.1 L2129.2 2408.5 L2124.1 2411.7 L2118.8 2414.5 L2113.4 2417.1 L2107.9 2419.6 L2102.3 2421.9 L2096.6 2424.0 L2090.9 2426.0 L2085.0 2427.9 L2079.1 2429.6 L2073.1 2431.2 L2066.9 2432.6 L2060.7 2433.9 L2054.5 2435.0 L2048.1 2436.0 L2041.6 2436.8 L2035.1 2437.5 L2028.5 2438.1 L2021.8 2438.5 L2015.1 2438.8 L2008.2 2438.9 L2001.3 2438.9 L1994.2 2438.7 L1987.2 2438.4 L1980.0 2438.1 L1972.8 2437.6 L1965.6 2437.0 L1958.2 2436.3 L1950.9 2435.5 L1943.4 2434.6 L1935.8 2433.5 L1928.1 2432.1 L1920.3 2430.6 L1912.4 2428.9 L1904.4 2427.2 L1896.4 2425.3 L1888.4 2423.4 L1880.3 2421.4 L1872.1 2419.2 L1863.9 2416.9 L1855.5 2414.4 L1847.0 2411.6 L1838.2 2408.5 L1829.4 2405.2 L1820.6 2401.9 L1811.7 2398.5 L1802.8 2395.2 L1794.1 2392.0 L1785.5 2389.1 L1777.0 2386.5 L1768.8 2384.2 L1760.8 2382.3 L1753.0 2380.8 L1745.4 2379.8 L1738.0 2379.0 A456.75 456.75 0 0 0 1630.0 2379.0 L1622.6 2379.8 L1615.0 2380.8 L1607.2 2382.3 L1599.2 2384.2 L1591.0 2386.5 L1582.5 2389.1 L1573.9 2392.0 L1565.2 2395.2 L1556.3 2398.5 L1547.4 2401.9 L1538.6 2405.2 L1529.8 2408.5 L1521.0 2411.6 L1512.5 2414.4 L1504.1 2416.9 L1495.9 2419.2 L1487.7 2421.4 L1479.6 2423.4 L1471.6 2425.3 L1463.6 2427.2 L1455.6 2428.9 L1447.7 2430.6 L1439.9 2432.1 L1432.2 2433.5 L1424.6 2434.6 L1417.1 2435.5 L1409.8 2436.3 L1402.4 2437.0 L1395.2 2437.6 L1388.0 2438.1 L1380.8 2438.4 L1373.8 2438.7 L1366.7 2438.9 L1359.8 2438.9 L1352.9 2438.8 L1346.2 2438.5 L1339.5 2438.1 L1332.9 2437.5 L1326.4 2436.8 L1319.9 2436.0 L1313.5 2435.0 L1307.3 2433.9 L1301.1 2432.6 L1294.9 2431.2 L1288.9 2429.6 L1283.0 2427.9 L1277.1 2426.0 L1271.4 2424.0 L1265.7 2421.9 L1260.1 2419.6 L1254.6 2417.1 L1249.2 2414.5 L1243.9 2411.7 L1238.8 2408.5 L1233.8 2405.1 L1228.9 2401.6 L1224.1 2397.9 L1219.4 2394.0 L1214.8 2390.0 L1210.2 2385.9 L1205.8 2381.6 L1201.4 2377.2 L1197.1 2372.6 L1192.9 2367.9 L1188.8 2363.0 L1184.8 2358.0 L1180.9 2352.8 L1177.0 2347.5 L1173.2 2342.1 L1169.5 2336.5 L1165.9 2330.8 L1162.3 2324.9 L1158.9 2318.9 L1155.5 2312.7 L1152.2 2306.4 L1149.0 2300.1 L1145.8 2293.6 L1142.6 2287.0 L1139.6 2280.3 L1136.6 2273.5 L1133.6 2266.6 L1130.8 2259.5 L1128.1 2252.1 L1125.5 2244.6 L1123.0 2236.9 L1120.6 2229.2 L1118.2 2221.3 L1115.9 2213.4 L1113.6 2205.4 L1111.3 2197.2 L1109.2 2188.9 L1107.2 2180.4 L1105.4 2171.6 L1103.7 2162.5 L1102.1 2153.2 L1100.6 2143.9 L1099.1 2134.5 L1097.5 2125.2 L1095.9 2116.0 L1094.1 2107.1 L1092.1 2098.5 L1090.0 2090.2 L1087.6 2082.3 L1085.0 2074.8 L1082.2 2067.8 L1079.2 2061.0 A456.75 456.75 0 0 0 1025.1 1967.3 L1020.7 1961.3 L1016.0 1955.3 L1010.9 1949.3 L1005.2 1943.3 L999.1 1937.3 L992.6 1931.3 L985.8 1925.3 L978.7 1919.3 L971.4 1913.3 L964.0 1907.3 L956.7 1901.3 L949.4 1895.3 L942.4 1889.3 L935.7 1883.3 L929.3 1877.3 L923.2 1871.3 L917.3 1865.3 L911.5 1859.3 L905.8 1853.3 L900.2 1847.3 L894.6 1841.3 L889.3 1835.3 L884.0 1829.3 L879.0 1823.3 L874.3 1817.3 L869.7 1811.3 L865.3 1805.3 L861.1 1799.3 L857.0 1793.3 L853.0 1787.3 L849.0 1781.3 L845.3 1775.3 L841.6 1769.3 L838.1 1763.3 L834.8 1757.3 L831.7 1751.3 L828.7 1745.3 L825.9 1739.3 L823.2 1733.3 L820.7 1727.3 L818.4 1721.3 L816.2 1715.3 L814.2 1709.3 L812.4 1703.3 L810.7 1697.3 L809.2 1691.3 L807.9 1685.3 L806.8 1679.3 L805.8 1673.3 L805.0 1667.3 L804.4 1661.3 L803.9 1655.3 L803.8 1649.3 L803.9 1643.3 L804.4 1637.3 L805.0 1631.3 L805.8 1625.3 L806.8 1619.3 L807.9 1613.3 L809.2 1607.3 L810.7 1601.3 L812.4 1595.3 L814.2 1589.3 L816.2 1583.3 L818.4 1577.3 L820.7 1571.3 L823.2 1565.3 L825.9 1559.3 L828.7 1553.3 L831.7 1547.3 L834.8 1541.3 L838.1 1535.3 L841.6 1529.3 L845.3 1523.3 L849.0 1517.3 L853.0 1511.3 L857.0 1505.3 L861.1 1499.3 L865.3 1493.3 L869.7 1487.3 L874.3 1481.3 L879.0 1475.3 L884.0 1469.3 L889.3 1463.3 L894.6 1457.3 L900.2 1451.3 L905.8 1445.3 L911.5 1439.3 L917.3 1433.3 L923.2 1427.3 L929.3 1421.3 L935.7 1415.3 L942.4 1409.3 L949.4 1403.3 L956.7 1397.3 L964.0 1391.3 L971.4 1385.3 L978.7 1379.3 L985.8 1373.3 L992.6 1367.3 L999.1 1361.3 L1005.2 1355.3 L1010.9 1349.3 L1016.0 1343.3 L1020.7 1337.3 L1025.1 1331.3 A456.75 456.75 0 0 0 1079.2 1237.7 L1082.2 1230.9 L1085.0 1223.9 L1087.6 1216.4 L1090.0 1208.5 L1092.1 1200.2 L1094.1 1191.6 L1095.9 1182.7 L1097.5 1173.5 L1099.1 1164.2 L1100.6 1154.8 L1102.1 1145.5 L1103.7 1136.2 L1105.4 1127.1 L1107.2 1118.3 L1109.2 1109.8 L1111.3 1101.5 L1113.6 1093.3 L1115.9 1085.3 L1118.2 1077.4 L1120.6 1069.5 L1123.0 1061.8 L1125.5 1054.1 L1128.1 1046.6 L1130.8 1039.2 L1133.6 1032.1 L1136.6 1025.2 L1139.6 1018.4 L1142.6 1011.7 L1145.8 1005.1 L1149.0 998.6 L1152.2 992.3 L1155.5 986.0 L1158.9 979.8 L1162.3 973.8 L1165.9 967.9 L1169.5 962.2 L1173.2 956.6 L1177.0 951.2 L1180.9 945.9 L1184.8 940.7 L1188.8 935.7 L1192.9 930.8 L1197.1 926.1 L1201.4 921.5 L1205.8 917.1 L1210.2 912.8 L1214.8 908.7 L1219.4 904.7 L1224.1 900.8 L1228.9 897.1 L1233.8 893.6 L1238.8 890.2 L1243.9 887.0 L1249.2 884.2 L1254.6 881.6 L1260.1 879.1 L1265.7 876.8 L1271.4 874.7 L1277.1 872.7 L1283.0 870.8 L1288.9 869.1 L1294.9 867.5 L1301.1 866.1 L1307.3 864.8 L1313.5 863.7 L1319.9 862.7 L1326.4 861.9 L1332.9 861.2 L1339.5 860.6 L1346.2 860.2 L1352.9 859.9 L1359.8 859.8 L1366.7 859.8 L1373.8 860.0 L1380.8 860.3 L1388.0 860.6 L1395.2 861.1 L1402.4 861.7 L1409.8 862.4 L1417.1 863.2 L1424.6 864.1 L1432.2 865.2 L1439.9 866.6 L1447.7 868.1 L1455.6 869.8 L1463.6 871.5 L1471.6 873.4 L1479.6 875.3 L1487.7 877.3 L1495.9 879.5 L1504.1 881.8 L1512.5 884.3 L1521.0 887.1 L1529.8 890.2 L1538.6 893.5 L1547.4 896.8 L1556.3 900.2 L1565.2 903.5 L1573.9 906.7 L1582.5 909.6 L1591.0 912.2 L1599.2 914.5 L1607.2 916.4 L1615.0 917.9 L1622.6 918.9 L1630.0 919.7 A456.75 456.75 0 0 0 1738.0 919.7 Z"/></g>
<g filter="url(#bh)"><path fill-rule="evenodd" fill="#fff" fill-opacity="0.3" d="M2112.3 307.5 L2115.0 314.9 L2117.5 322.5 L2120.0 330.1 L2122.4 338.0 L2124.8 345.9 L2126.9 354.3 L2128.8 363.0 L2130.4 372.1 L2131.9 381.5 L2133.3 391.1 L2134.7 400.8 L2136.0 410.4 L2137.5 419.9 L2139.1 429.2 L2140.8 438.1 L2142.8 446.7 L2145.0 454.9 L2147.4 462.7 L2150.0 470.2 L2152.7 477.5 L2155.5 484.6 L2158.4 491.7 L2161.3 498.6 L2164.3 505.4 L2167.4 512.2 L2170.5 518.8 L2173.6 525.3 L2176.9 531.7 L2180.2 537.9 L2183.6 544.1 L2187.0 550.1 L2190.6 556.0 L2194.2 561.7 L2197.9 567.3 L2201.7 572.7 L2205.5 578.0 L2209.5 583.2 L2213.5 588.2 L2217.6 593.1 L2221.8 597.8 L2226.1 602.4 L2230.5 606.8 L2234.9 611.1 L2239.5 615.2 L2244.1 619.2 L2248.8 623.1 L2253.6 626.8 L2258.5 630.3 L2263.4 633.7 L2268.6 636.9 L2273.8 639.7 L2279.3 642.3 L2284.8 644.8 L2290.4 647.1 L2296.1 649.2 L2301.8 651.2 L2307.7 653.1 L2313.6 654.8 L2319.6 656.4 L2325.7 657.8 L2331.9 659.1 L2338.2 660.2 L2344.6 661.2 L2351.0 662.0 L2357.6 662.7 L2364.2 663.3 L2370.9 663.7 L2377.6 664.0 L2384.5 664.1 L2391.4 664.1 L2398.4 663.9 L2405.5 663.7 L2412.7 663.3 L2419.9 662.8 L2427.2 662.2 L2434.5 661.4 L2441.9 660.6 L2449.4 659.7 L2456.9 658.6 L2464.5 657.5 L2472.2 656.2 L2480.0 654.7 L2487.9 652.9 L2496.1 650.7 L2504.5 648.1 L2513.2 645.2 L2522.0 641.9 L2531.0 638.4 L2540.0 634.8 L2549.0 631.1 L2558.0 627.5 L2566.9 624.1 L2575.6 621.0 L2584.1 618.3 L2592.4 615.9 L2600.5 614.0 L2608.5 612.1 L2616.4 610.5 L2624.2 608.9 L2631.9 607.5 A456.75 456.75 0 0 1 3060.2 1349.3 L3055.1 1355.3 L3049.9 1361.3 L3044.5 1367.3 L3038.9 1373.3 L3033.2 1379.3 L3027.0 1385.3 L3020.4 1391.3 L3013.3 1397.3 L3005.9 1403.3 L2998.3 1409.3 L2990.6 1415.3 L2983.0 1421.3 L2975.5 1427.3 L2968.2 1433.3 L2961.3 1439.3 L2954.9 1445.3 L2949.0 1451.3 L2943.4 1457.3 L2938.2 1463.3 L2933.2 1469.3 L2928.4 1475.3 L2923.8 1481.3 L2919.2 1487.3 L2914.8 1493.3 L2910.5 1499.3 L2906.3 1505.3 L2902.3 1511.3 L2898.4 1517.3 L2894.6 1523.3 L2891.0 1529.3 L2887.5 1535.3 L2884.2 1541.3 L2881.0 1547.3 L2878.1 1553.3 L2875.2 1559.3 L2872.6 1565.3 L2870.1 1571.3 L2867.7 1577.3 L2865.6 1583.3 L2863.6 1589.3 L2861.7 1595.3 L2860.1 1601.3 L2858.6 1607.3 L2857.3 1613.3 L2856.2 1619.3 L2855.2 1625.3 L2854.4 1631.3 L2853.7 1637.3 L2853.3 1643.3 L2853.1 1649.3 L2853.3 1655.3 L2853.7 1661.3 L2854.4 1667.3 L2855.2 1673.3 L2856.2 1679.3 L2857.3 1685.3 L2858.6 1691.3 L2860.1 1697.3 L2861.7 1703.3 L2863.6 1709.3 L2865.6 1715.3 L2867.7 1721.3 L2870.1 1727.3 L2872.6 1733.3 L2875.2 1739.3 L2878.1 1745.3 L2881.0 1751.3 L2884.2 1757.3 L2887.5 1763.3 L2891.0 1769.3 L2894.6 1775.3 L2898.4 1781.3 L2902.3 1787.3 L2906.3 1793.3 L2910.5 1799.3 L2914.8 1805.3 L2919.2 1811.3 L2923.8 1817.3 L2928.4 1823.3 L2933.2 1829.3 L2938.2 1835.3 L2943.4 1841.3 L2949.0 1847.3 L2954.9 1853.3 L2961.3 1859.3 L2968.2 1865.3 L2975.5 1871.3 L2983.0 1877.3 L2990.6 1883.3 L2998.3 1889.3 L3005.9 1895.3 L3013.3 1901.3 L3020.4 1907.3 L3027.0 1913.3 L3033.2 1919.3 L3038.9 1925.3 L3044.5 1931.3 L3049.9 1937.3 L3055.1 1943.3 L3060.2 1949.3 A456.75 456.75 0 0 1 2631.9 2691.2 L2624.2 2689.8 L2616.4 2688.2 L2608.5 2686.6 L2600.5 2684.7 L2592.4 2682.8 L2584.1 2680.4 L2575.6 2677.7 L2566.9 2674.6 L2558.0 2671.2 L2549.0 2667.6 L2540.0 2663.9 L2531.0 2660.3 L2522.0 2656.8 L2513.2 2653.5 L2504.5 2650.6 L2496.1 2648.0 L2487.9 2645.8 L2480.0 2644.0 L2472.2 2642.5 L2464.5 2641.2 L2456.9 2640.1 L2449.4 2639.0 L2441.9 2638.1 L2434.5 2637.3 L2427.2 2636.5 L2419.9 2635.9 L2412.7 2635.4 L2405.5 2635.0 L2398.4 2634.8 L2391.4 2634.6 L2384.5 2634.6 L2377.6 2634.7 L2370.9 2635.0 L2364.2 2635.4 L2357.6 2636.0 L2351.0 2636.7 L2344.6 2637.5 L2338.2 2638.5 L2331.9 2639.6 L2325.7 2640.9 L2319.6 2642.3 L2313.6 2643.9 L2307.7 2645.6 L2301.8 2647.5 L2296.1 2649.5 L2290.4 2651.6 L2284.8 2653.9 L2279.3 2656.4 L2273.8 2659.0 L2268.6 2661.8 L2263.4 2665.0 L2258.5 2668.4 L2253.6 2671.9 L2248.8 2675.6 L2244.1 2679.5 L2239.5 2683.5 L2234.9 2687.6 L2230.5 2691.9 L2226.1 2696.3 L2221.8 2700.9 L2217.6 2705.6 L2213.5 2710.5 L2209.5 2715.5 L2205.5 2720.7 L2201.7 2726.0 L2197.9 2731.4 L2194.2 2737.0 L2190.6 2742.7 L2187.0 2748.6 L2183.6 2754.6 L2180.2 2760.8 L2176.9 2767.0 L2173.6 2773.4 L2170.5 2779.9 L2167.4 2786.5 L2164.3 2793.3 L2161.3 2800.1 L2158.4 2807.0 L2155.5 2814.1 L2152.7 2821.2 L2150.0 2828.5 L2147.4 2836.0 L2145.0 2843.8 L2142.8 2852.0 L2140.8 2860.6 L2139.1 2869.5 L2137.5 2878.8 L2136.0 2888.3 L2134.7 2897.9 L2133.3 2907.6 L2131.9 2917.2 L2130.4 2926.6 L2128.8 2935.7 L2126.9 2944.4 L2124.8 2952.8 L2122.4 2960.7 L2120.0 2968.6 L2117.5 2976.2 L2115.0 2983.8 L2112.3 2991.2 A456.75 456.75 0 0 1 1255.7 2991.2 L1253.0 2983.8 L1250.5 2976.2 L1248.0 2968.6 L1245.6 2960.7 L1243.2 2952.8 L1241.1 2944.4 L1239.2 2935.7 L1237.6 2926.6 L1236.1 2917.2 L1234.7 2907.6 L1233.3 2897.9 L1232.0 2888.3 L1230.5 2878.8 L1228.9 2869.5 L1227.2 2860.6 L1225.2 2852.0 L1223.0 2843.8 L1220.6 2836.0 L1218.0 2828.5 L1215.3 2821.2 L1212.5 2814.1 L1209.6 2807.0 L1206.7 2800.1 L1203.7 2793.3 L1200.6 2786.5 L1197.5 2779.9 L1194.4 2773.4 L1191.1 2767.0 L1187.8 2760.8 L1184.4 2754.6 L1181.0 2748.6 L1177.4 2742.7 L1173.8 2737.0 L1170.1 2731.4 L1166.3 2726.0 L1162.5 2720.7 L1158.5 2715.5 L1154.5 2710.5 L1150.4 2705.6 L1146.2 2700.9 L1141.9 2696.3 L1137.5 2691.9 L1133.1 2687.6 L1128.5 2683.5 L1123.9 2679.5 L1119.2 2675.6 L1114.4 2671.9 L1109.5 2668.4 L1104.6 2665.0 L1099.4 2661.8 L1094.2 2659.0 L1088.7 2656.4 L1083.2 2653.9 L1077.6 2651.6 L1071.9 2649.5 L1066.2 2647.5 L1060.3 2645.6 L1054.4 2643.9 L1048.4 2642.3 L1042.3 2640.9 L1036.1 2639.6 L1029.8 2638.5 L1023.4 2637.5 L1017.0 2636.7 L1010.4 2636.0 L1003.8 2635.4 L997.1 2635.0 L990.4 2634.7 L983.5 2634.6 L976.6 2634.6 L969.6 2634.8 L962.5 2635.0 L955.3 2635.4 L948.1 2635.9 L940.8 2636.5 L933.5 2637.3 L926.1 2638.1 L918.6 2639.0 L911.1 2640.1 L903.5 2641.2 L895.8 2642.5 L888.0 2644.0 L880.1 2645.8 L871.9 2648.0 L863.5 2650.6 L854.8 2653.5 L846.0 2656.8 L837.0 2660.3 L828.0 2663.9 L819.0 2667.6 L810.0 2671.2 L801.1 2674.6 L792.4 2677.7 L783.9 2680.4 L775.6 2682.8 L767.5 2684.7 L759.5 2686.6 L751.6 2688.2 L743.8 2689.8 L736.1 2691.2 A456.75 456.75 0 0 1 307.8 1949.3 L312.9 1943.3 L318.1 1937.3 L323.5 1931.3 L329.1 1925.3 L334.8 1919.3 L341.0 1913.3 L347.6 1907.3 L354.7 1901.3 L362.1 1895.3 L369.7 1889.3 L377.4 1883.3 L385.0 1877.3 L392.5 1871.3 L399.8 1865.3 L406.7 1859.3 L413.1 1853.3 L419.0 1847.3 L424.6 1841.3 L429.8 1835.3 L434.8 1829.3 L439.6 1823.3 L444.2 1817.3 L448.8 1811.3 L453.2 1805.3 L457.5 1799.3 L461.7 1793.3 L465.7 1787.3 L469.6 1781.3 L473.4 1775.3 L477.0 1769.3 L480.5 1763.3 L483.8 1757.3 L487.0 1751.3 L489.9 1745.3 L492.8 1739.3 L495.4 1733.3 L497.9 1727.3 L500.3 1721.3 L502.4 1715.3 L504.4 1709.3 L506.3 1703.3 L507.9 1697.3 L509.4 1691.3 L510.7 1685.3 L511.8 1679.3 L512.8 1673.3 L513.6 1667.3 L514.3 1661.3 L514.7 1655.3 L514.9 1649.3 L514.7 1643.3 L514.3 1637.3 L513.6 1631.3 L512.8 1625.3 L511.8 1619.3 L510.7 1613.3 L509.4 1607.3 L507.9 1601.3 L506.3 1595.3 L504.4 1589.3 L502.4 1583.3 L500.3 1577.3 L497.9 1571.3 L495.4 1565.3 L492.8 1559.3 L489.9 1553.3 L487.0 1547.3 L483.8 1541.3 L480.5 1535.3 L477.0 1529.3 L473.4 1523.3 L469.6 1517.3 L465.7 1511.3 L461.7 1505.3 L457.5 1499.3 L453.2 1493.3 L448.8 1487.3 L444.2 1481.3 L439.6 1475.3 L434.8 1469.3 L429.8 1463.3 L424.6 1457.3 L419.0 1451.3 L413.1 1445.3 L406.7 1439.3 L399.8 1433.3 L392.5 1427.3 L385.0 1421.3 L377.4 1415.3 L369.7 1409.3 L362.1 1403.3 L354.7 1397.3 L347.6 1391.3 L341.0 1385.3 L334.8 1379.3 L329.1 1373.3 L323.5 1367.3 L318.1 1361.3 L312.9 1355.3 L307.8 1349.3 A456.75 456.75 0 0 1 736.1 607.5 L743.8 608.9 L751.6 610.5 L759.5 612.1 L767.5 614.0 L775.6 615.9 L783.9 618.3 L792.4 621.0 L801.1 624.1 L810.0 627.5 L819.0 631.1 L828.0 634.8 L837.0 638.4 L846.0 641.9 L854.8 645.2 L863.5 648.1 L871.9 650.7 L880.1 652.9 L888.0 654.7 L895.8 656.2 L903.5 657.5 L911.1 658.6 L918.6 659.7 L926.1 660.6 L933.5 661.4 L940.8 662.2 L948.1 662.8 L955.3 663.3 L962.5 663.7 L969.6 663.9 L976.6 664.1 L983.5 664.1 L990.4 664.0 L997.1 663.7 L1003.8 663.3 L1010.4 662.7 L1017.0 662.0 L1023.4 661.2 L1029.8 660.2 L1036.1 659.1 L1042.3 657.8 L1048.4 656.4 L1054.4 654.8 L1060.3 653.1 L1066.2 651.2 L1071.9 649.2 L1077.6 647.1 L1083.2 644.8 L1088.7 642.3 L1094.2 639.7 L1099.4 636.9 L1104.6 633.7 L1109.5 630.3 L1114.4 626.8 L1119.2 623.1 L1123.9 619.2 L1128.5 615.2 L1133.1 611.1 L1137.5 606.8 L1141.9 602.4 L1146.2 597.8 L1150.4 593.1 L1154.5 588.2 L1158.5 583.2 L1162.5 578.0 L1166.3 572.7 L1170.1 567.3 L1173.8 561.7 L1177.4 556.0 L1181.0 550.1 L1184.4 544.1 L1187.8 537.9 L1191.1 531.7 L1194.4 525.3 L1197.5 518.8 L1200.6 512.2 L1203.7 505.4 L1206.7 498.6 L1209.6 491.7 L1212.5 484.6 L1215.3 477.5 L1218.0 470.2 L1220.6 462.7 L1223.0 454.9 L1225.2 446.7 L1227.2 438.1 L1228.9 429.2 L1230.5 419.9 L1232.0 410.4 L1233.3 400.8 L1234.7 391.1 L1236.1 381.5 L1237.6 372.1 L1239.2 363.0 L1241.1 354.3 L1243.2 345.9 L1245.6 338.0 L1248.0 330.1 L1250.5 322.5 L1253.0 314.9 L1255.7 307.5 A456.75 456.75 0 0 1 2112.3 307.5 Z M1738.0 919.7 L1745.4 918.9 L1753.0 917.9 L1760.8 916.4 L1768.8 914.5 L1777.0 912.2 L1785.5 909.6 L1794.1 906.7 L1802.8 903.5 L1811.7 900.2 L1820.6 896.8 L1829.4 893.5 L1838.2 890.2 L1847.0 887.1 L1855.5 884.3 L1863.9 881.8 L1872.1 879.5 L1880.3 877.3 L1888.4 875.3 L1896.4 873.4 L1904.4 871.5 L1912.4 869.8 L1920.3 868.1 L1928.1 866.6 L1935.8 865.2 L1943.4 864.1 L1950.9 863.2 L1958.2 862.4 L1965.6 861.7 L1972.8 861.1 L1980.0 860.6 L1987.2 860.3 L1994.2 860.0 L2001.3 859.8 L2008.2 859.8 L2015.1 859.9 L2021.8 860.2 L2028.5 860.6 L2035.1 861.2 L2041.6 861.9 L2048.1 862.7 L2054.5 863.7 L2060.7 864.8 L2066.9 866.1 L2073.1 867.5 L2079.1 869.1 L2085.0 870.8 L2090.9 872.7 L2096.6 874.7 L2102.3 876.8 L2107.9 879.1 L2113.4 881.6 L2118.8 884.2 L2124.1 887.0 L2129.2 890.2 L2134.2 893.6 L2139.1 897.1 L2143.9 900.8 L2148.6 904.7 L2153.2 908.7 L2157.8 912.8 L2162.2 917.1 L2166.6 921.5 L2170.9 926.1 L2175.1 930.8 L2179.2 935.7 L2183.2 940.7 L2187.1 945.9 L2191.0 951.2 L2194.8 956.6 L2198.5 962.2 L2202.1 967.9 L2205.7 973.8 L2209.1 979.8 L2212.5 986.0 L2215.8 992.3 L2219.0 998.6 L2222.2 1005.1 L2225.4 1011.7 L2228.4 1018.4 L2231.4 1025.2 L2234.4 1032.1 L2237.2 1039.2 L2239.9 1046.6 L2242.5 1054.1 L2245.0 1061.8 L2247.4 1069.5 L2249.8 1077.4 L2252.1 1085.3 L2254.4 1093.3 L2256.7 1101.5 L2258.8 1109.8 L2260.8 1118.3 L2262.6 1127.1 L2264.3 1136.2 L2265.9 1145.5 L2267.4 1154.8 L2268.9 1164.2 L2270.5 1173.5 L2272.1 1182.7 L2273.9 1191.6 L2275.9 1200.2 L2278.0 1208.5 L2280.4 1216.4 L2283.0 1223.9 L2285.8 1230.9 L2288.8 1237.7 A456.75 456.75 0 0 0 2342.9 1331.3 L2347.3 1337.3 L2352.0 1343.3 L2357.1 1349.3 L2362.8 1355.3 L2368.9 1361.3 L2375.4 1367.3 L2382.2 1373.3 L2389.3 1379.3 L2396.6 1385.3 L2404.0 1391.3 L2411.3 1397.3 L2418.6 1403.3 L2425.6 1409.3 L2432.3 1415.3 L2438.7 1421.3 L2444.8 1427.3 L2450.7 1433.3 L2456.5 1439.3 L2462.2 1445.3 L2467.8 1451.3 L2473.4 1457.3 L2478.7 1463.3 L2484.0 1469.3 L2489.0 1475.3 L2493.7 1481.3 L2498.3 1487.3 L2502.7 1493.3 L2506.9 1499.3 L2511.0 1505.3 L2515.0 1511.3 L2519.0 1517.3 L2522.7 1523.3 L2526.4 1529.3 L2529.9 1535.3 L2533.2 1541.3 L2536.3 1547.3 L2539.3 1553.3 L2542.1 1559.3 L2544.8 1565.3 L2547.3 1571.3 L2549.6 1577.3 L2551.8 1583.3 L2553.8 1589.3 L2555.6 1595.3 L2557.3 1601.3 L2558.8 1607.3 L2560.1 1613.3 L2561.2 1619.3 L2562.2 1625.3 L2563.0 1631.3 L2563.6 1637.3 L2564.1 1643.3 L2564.2 1649.3 L2564.1 1655.3 L2563.6 1661.3 L2563.0 1667.3 L2562.2 1673.3 L2561.2 1679.3 L2560.1 1685.3 L2558.8 1691.3 L2557.3 1697.3 L2555.6 1703.3 L2553.8 1709.3 L2551.8 1715.3 L2549.6 1721.3 L2547.3 1727.3 L2544.8 1733.3 L2542.1 1739.3 L2539.3 1745.3 L2536.3 1751.3 L2533.2 1757.3 L2529.9 1763.3 L2526.4 1769.3 L2522.7 1775.3 L2519.0 1781.3 L2515.0 1787.3 L2511.0 1793.3 L2506.9 1799.3 L2502.7 1805.3 L2498.3 1811.3 L2493.7 1817.3 L2489.0 1823.3 L2484.0 1829.3 L2478.7 1835.3 L2473.4 1841.3 L2467.8 1847.3 L2462.2 1853.3 L2456.5 1859.3 L2450.7 1865.3 L2444.8 1871.3 L2438.7 1877.3 L2432.3 1883.3 L2425.6 1889.3 L2418.6 1895.3 L2411.3 1901.3 L2404.0 1907.3 L2396.6 1913.3 L2389.3 1919.3 L2382.2 1925.3 L2375.4 1931.3 L2368.9 1937.3 L2362.8 1943.3 L2357.1 1949.3 L2352.0 1955.3 L2347.3 1961.3 L2342.9 1967.3 A456.75 456.75 0 0 0 2288.8 2061.0 L2285.8 2067.8 L2283.0 2074.8 L2280.4 2082.3 L2278.0 2090.2 L2275.9 2098.5 L2273.9 2107.1 L2272.1 2116.0 L2270.5 2125.2 L2268.9 2134.5 L2267.4 2143.9 L2265.9 2153.2 L2264.3 2162.5 L2262.6 2171.6 L2260.8 2180.4 L2258.8 2188.9 L2256.7 2197.2 L2254.4 2205.4 L2252.1 2213.4 L2249.8 2221.3 L2247.4 2229.2 L2245.0 2236.9 L2242.5 2244.6 L2239.9 2252.1 L2237.2 2259.5 L2234.4 2266.6 L2231.4 2273.5 L2228.4 2280.3 L2225.4 2287.0 L2222.2 2293.6 L2219.0 2300.1 L2215.8 2306.4 L2212.5 2312.7 L2209.1 2318.9 L2205.7 2324.9 L2202.1 2330.8 L2198.5 2336.5 L2194.8 2342.1 L2191.0 2347.5 L2187.1 2352.8 L2183.2 2358.0 L2179.2 2363.0 L2175.1 2367.9 L2170.9 2372.6 L2166.6 2377.2 L2162.2 2381.6 L2157.8 2385.9 L2153.2 2390.0 L2148.6 2394.0 L2143.9 2397.9 L2139.1 2401.6 L2134.2 2405.1 L2129.2 2408.5 L2124.1 2411.7 L2118.8 2414.5 L2113.4 2417.1 L2107.9 2419.6 L2102.3 2421.9 L2096.6 2424.0 L2090.9 2426.0 L2085.0 2427.9 L2079.1 2429.6 L2073.1 2431.2 L2066.9 2432.6 L2060.7 2433.9 L2054.5 2435.0 L2048.1 2436.0 L2041.6 2436.8 L2035.1 2437.5 L2028.5 2438.1 L2021.8 2438.5 L2015.1 2438.8 L2008.2 2438.9 L2001.3 2438.9 L1994.2 2438.7 L1987.2 2438.4 L1980.0 2438.1 L1972.8 2437.6 L1965.6 2437.0 L1958.2 2436.3 L1950.9 2435.5 L1943.4 2434.6 L1935.8 2433.5 L1928.1 2432.1 L1920.3 2430.6 L1912.4 2428.9 L1904.4 2427.2 L1896.4 2425.3 L1888.4 2423.4 L1880.3 2421.4 L1872.1 2419.2 L1863.9 2416.9 L1855.5 2414.4 L1847.0 2411.6 L1838.2 2408.5 L1829.4 2405.2 L1820.6 2401.9 L1811.7 2398.5 L1802.8 2395.2 L1794.1 2392.0 L1785.5 2389.1 L1777.0 2386.5 L1768.8 2384.2 L1760.8 2382.3 L1753.0 2380.8 L1745.4 2379.8 L1738.0 2379.0 A456.75 456.75 0 0 0 1630.0 2379.0 L1622.6 2379.8 L1615.0 2380.8 L1607.2 2382.3 L1599.2 2384.2 L1591.0 2386.5 L1582.5 2389.1 L1573.9 2392.0 L1565.2 2395.2 L1556.3 2398.5 L1547.4 2401.9 L1538.6 2405.2 L1529.8 2408.5 L1521.0 2411.6 L1512.5 2414.4 L1504.1 2416.9 L1495.9 2419.2 L1487.7 2421.4 L1479.6 2423.4 L1471.6 2425.3 L1463.6 2427.2 L1455.6 2428.9 L1447.7 2430.6 L1439.9 2432.1 L1432.2 2433.5 L1424.6 2434.6 L1417.1 2435.5 L1409.8 2436.3 L1402.4 2437.0 L1395.2 2437.6 L1388.0 2438.1 L1380.8 2438.4 L1373.8 2438.7 L1366.7 2438.9 L1359.8 2438.9 L1352.9 2438.8 L1346.2 2438.5 L1339.5 2438.1 L1332.9 2437.5 L1326.4 2436.8 L1319.9 2436.0 L1313.5 2435.0 L1307.3 2433.9 L1301.1 2432.6 L1294.9 2431.2 L1288.9 2429.6 L1283.0 2427.9 L1277.1 2426.0 L1271.4 2424.0 L1265.7 2421.9 L1260.1 2419.6 L1254.6 2417.1 L1249.2 2414.5 L1243.9 2411.7 L1238.8 2408.5 L1233.8 2405.1 L1228.9 2401.6 L1224.1 2397.9 L1219.4 2394.0 L1214.8 2390.0 L1210.2 2385.9 L1205.8 2381.6 L1201.4 2377.2 L1197.1 2372.6 L1192.9 2367.9 L1188.8 2363.0 L1184.8 2358.0 L1180.9 2352.8 L1177.0 2347.5 L1173.2 2342.1 L1169.5 2336.5 L1165.9 2330.8 L1162.3 2324.9 L1158.9 2318.9 L1155.5 2312.7 L1152.2 2306.4 L1149.0 2300.1 L1145.8 2293.6 L1142.6 2287.0 L1139.6 2280.3 L1136.6 2273.5 L1133.6 2266.6 L1130.8 2259.5 L1128.1 2252.1 L1125.5 2244.6 L1123.0 2236.9 L1120.6 2229.2 L1118.2 2221.3 L1115.9 2213.4 L1113.6 2205.4 L1111.3 2197.2 L1109.2 2188.9 L1107.2 2180.4 L1105.4 2171.6 L1103.7 2162.5 L1102.1 2153.2 L1100.6 2143.9 L1099.1 2134.5 L1097.5 2125.2 L1095.9 2116.0 L1094.1 2107.1 L1092.1 2098.5 L1090.0 2090.2 L1087.6 2082.3 L1085.0 2074.8 L1082.2 2067.8 L1079.2 2061.0 A456.75 456.75 0 0 0 1025.1 1967.3 L1020.7 1961.3 L1016.0 1955.3 L1010.9 1949.3 L1005.2 1943.3 L999.1 1937.3 L992.6 1931.3 L985.8 1925.3 L978.7 1919.3 L971.4 1913.3 L964.0 1907.3 L956.7 1901.3 L949.4 1895.3 L942.4 1889.3 L935.7 1883.3 L929.3 1877.3 L923.2 1871.3 L917.3 1865.3 L911.5 1859.3 L905.8 1853.3 L900.2 1847.3 L894.6 1841.3 L889.3 1835.3 L884.0 1829.3 L879.0 1823.3 L874.3 1817.3 L869.7 1811.3 L865.3 1805.3 L861.1 1799.3 L857.0 1793.3 L853.0 1787.3 L849.0 1781.3 L845.3 1775.3 L841.6 1769.3 L838.1 1763.3 L834.8 1757.3 L831.7 1751.3 L828.7 1745.3 L825.9 1739.3 L823.2 1733.3 L820.7 1727.3 L818.4 1721.3 L816.2 1715.3 L814.2 1709.3 L812.4 1703.3 L810.7 1697.3 L809.2 1691.3 L807.9 1685.3 L806.8 1679.3 L805.8 1673.3 L805.0 1667.3 L804.4 1661.3 L803.9 1655.3 L803.8 1649.3 L803.9 1643.3 L804.4 1637.3 L805.0 1631.3 L805.8 1625.3 L806.8 1619.3 L807.9 1613.3 L809.2 1607.3 L810.7 1601.3 L812.4 1595.3 L814.2 1589.3 L816.2 1583.3 L818.4 1577.3 L820.7 1571.3 L823.2 1565.3 L825.9 1559.3 L828.7 1553.3 L831.7 1547.3 L834.8 1541.3 L838.1 1535.3 L841.6 1529.3 L845.3 1523.3 L849.0 1517.3 L853.0 1511.3 L857.0 1505.3 L861.1 1499.3 L865.3 1493.3 L869.7 1487.3 L874.3 1481.3 L879.0 1475.3 L884.0 1469.3 L889.3 1463.3 L894.6 1457.3 L900.2 1451.3 L905.8 1445.3 L911.5 1439.3 L917.3 1433.3 L923.2 1427.3 L929.3 1421.3 L935.7 1415.3 L942.4 1409.3 L949.4 1403.3 L956.7 1397.3 L964.0 1391.3 L971.4 1385.3 L978.7 1379.3 L985.8 1373.3 L992.6 1367.3 L999.1 1361.3 L1005.2 1355.3 L1010.9 1349.3 L1016.0 1343.3 L1020.7 1337.3 L1025.1 1331.3 A456.75 456.75 0 0 0 1079.2 1237.7 L1082.2 1230.9 L1085.0 1223.9 L1087.6 1216.4 L1090.0 1208.5 L1092.1 1200.2 L1094.1 1191.6 L1095.9 1182.7 L1097.5 1173.5 L1099.1 1164.2 L1100.6 1154.8 L1102.1 1145.5 L1103.7 1136.2 L1105.4 1127.1 L1107.2 1118.3 L1109.2 1109.8 L1111.3 1101.5 L1113.6 1093.3 L1115.9 1085.3 L1118.2 1077.4 L1120.6 1069.5 L1123.0 1061.8 L1125.5 1054.1 L1128.1 1046.6 L1130.8 1039.2 L1133.6 1032.1 L1136.6 1025.2 L1139.6 1018.4 L1142.6 1011.7 L1145.8 1005.1 L1149.0 998.6 L1152.2 992.3 L1155.5 986.0 L1158.9 979.8 L1162.3 973.8 L1165.9 967.9 L1169.5 962.2 L1173.2 956.6 L1177.0 951.2 L1180.9 945.9 L1184.8 940.7 L1188.8 935.7 L1192.9 930.8 L1197.1 926.1 L1201.4 921.5 L1205.8 917.1 L1210.2 912.8 L1214.8 908.7 L1219.4 904.7 L1224.1 900.8 L1228.9 897.1 L1233.8 893.6 L1238.8 890.2 L1243.9 887.0 L1249.2 884.2 L1254.6 881.6 L1260.1 879.1 L1265.7 876.8 L1271.4 874.7 L1277.1 872.7 L1283.0 870.8 L1288.9 869.1 L1294.9 867.5 L1301.1 866.1 L1307.3 864.8 L1313.5 863.7 L1319.9 862.7 L1326.4 861.9 L1332.9 861.2 L1339.5 860.6 L1346.2 860.2 L1352.9 859.9 L1359.8 859.8 L1366.7 859.8 L1373.8 860.0 L1380.8 860.3 L1388.0 860.6 L1395.2 861.1 L1402.4 861.7 L1409.8 862.4 L1417.1 863.2 L1424.6 864.1 L1432.2 865.2 L1439.9 866.6 L1447.7 868.1 L1455.6 869.8 L1463.6 871.5 L1471.6 873.4 L1479.6 875.3 L1487.7 877.3 L1495.9 879.5 L1504.1 881.8 L1512.5 884.3 L1521.0 887.1 L1529.8 890.2 L1538.6 893.5 L1547.4 896.8 L1556.3 900.2 L1565.2 903.5 L1573.9 906.7 L1582.5 909.6 L1591.0 912.2 L1599.2 914.5 L1607.2 916.4 L1615.0 917.9 L1622.6 918.9 L1630.0 919.7 A456.75 456.75 0 0 0 1738.0 919.7 Z"/></g>
<path fill-rule="evenodd" fill="#f4f4f4" d="M2112.3 307.5 L2115.0 314.9 L2117.5 322.5 L2120.0 330.1 L2122.4 338.0 L2124.8 345.9 L2126.9 354.3 L2128.8 363.0 L2130.4 372.1 L2131.9 381.5 L2133.3 391.1 L2134.7 400.8 L2136.0 410.4 L2137.5 419.9 L2139.1 429.2 L2140.8 438.1 L2142.8 446.7 L2145.0 454.9 L2147.4 462.7 L2150.0 470.2 L2152.7 477.5 L2155.5 484.6 L2158.4 491.7 L2161.3 498.6 L2164.3 505.4 L2167.4 512.2 L2170.5 518.8 L2173.6 525.3 L2176.9 531.7 L2180.2 537.9 L2183.6 544.1 L2187.0 550.1 L2190.6 556.0 L2194.2 561.7 L2197.9 567.3 L2201.7 572.7 L2205.5 578.0 L2209.5 583.2 L2213.5 588.2 L2217.6 593.1 L2221.8 597.8 L2226.1 602.4 L2230.5 606.8 L2234.9 611.1 L2239.5 615.2 L2244.1 619.2 L2248.8 623.1 L2253.6 626.8 L2258.5 630.3 L2263.4 633.7 L2268.6 636.9 L2273.8 639.7 L2279.3 642.3 L2284.8 644.8 L2290.4 647.1 L2296.1 649.2 L2301.8 651.2 L2307.7 653.1 L2313.6 654.8 L2319.6 656.4 L2325.7 657.8 L2331.9 659.1 L2338.2 660.2 L2344.6 661.2 L2351.0 662.0 L2357.6 662.7 L2364.2 663.3 L2370.9 663.7 L2377.6 664.0 L2384.5 664.1 L2391.4 664.1 L2398.4 663.9 L2405.5 663.7 L2412.7 663.3 L2419.9 662.8 L2427.2 662.2 L2434.5 661.4 L2441.9 660.6 L2449.4 659.7 L2456.9 658.6 L2464.5 657.5 L2472.2 656.2 L2480.0 654.7 L2487.9 652.9 L2496.1 650.7 L2504.5 648.1 L2513.2 645.2 L2522.0 641.9 L2531.0 638.4 L2540.0 634.8 L2549.0 631.1 L2558.0 627.5 L2566.9 624.1 L2575.6 621.0 L2584.1 618.3 L2592.4 615.9 L2600.5 614.0 L2608.5 612.1 L2616.4 610.5 L2624.2 608.9 L2631.9 607.5 A456.75 456.75 0 0 1 3060.2 1349.3 L3055.1 1355.3 L3049.9 1361.3 L3044.5 1367.3 L3038.9 1373.3 L3033.2 1379.3 L3027.0 1385.3 L3020.4 1391.3 L3013.3 1397.3 L3005.9 1403.3 L2998.3 1409.3 L2990.6 1415.3 L2983.0 1421.3 L2975.5 1427.3 L2968.2 1433.3 L2961.3 1439.3 L2954.9 1445.3 L2949.0 1451.3 L2943.4 1457.3 L2938.2 1463.3 L2933.2 1469.3 L2928.4 1475.3 L2923.8 1481.3 L2919.2 1487.3 L2914.8 1493.3 L2910.5 1499.3 L2906.3 1505.3 L2902.3 1511.3 L2898.4 1517.3 L2894.6 1523.3 L2891.0 1529.3 L2887.5 1535.3 L2884.2 1541.3 L2881.0 1547.3 L2878.1 1553.3 L2875.2 1559.3 L2872.6 1565.3 L2870.1 1571.3 L2867.7 1577.3 L2865.6 1583.3 L2863.6 1589.3 L2861.7 1595.3 L2860.1 1601.3 L2858.6 1607.3 L2857.3 1613.3 L2856.2 1619.3 L2855.2 1625.3 L2854.4 1631.3 L2853.7 1637.3 L2853.3 1643.3 L2853.1 1649.3 L2853.3 1655.3 L2853.7 1661.3 L2854.4 1667.3 L2855.2 1673.3 L2856.2 1679.3 L2857.3 1685.3 L2858.6 1691.3 L2860.1 1697.3 L2861.7 1703.3 L2863.6 1709.3 L2865.6 1715.3 L2867.7 1721.3 L2870.1 1727.3 L2872.6 1733.3 L2875.2 1739.3 L2878.1 1745.3 L2881.0 1751.3 L2884.2 1757.3 L2887.5 1763.3 L2891.0 1769.3 L2894.6 1775.3 L2898.4 1781.3 L2902.3 1787.3 L2906.3 1793.3 L2910.5 1799.3 L2914.8 1805.3 L2919.2 1811.3 L2923.8 1817.3 L2928.4 1823.3 L2933.2 1829.3 L2938.2 1835.3 L2943.4 1841.3 L2949.0 1847.3 L2954.9 1853.3 L2961.3 1859.3 L2968.2 1865.3 L2975.5 1871.3 L2983.0 1877.3 L2990.6 1883.3 L2998.3 1889.3 L3005.9 1895.3 L3013.3 1901.3 L3020.4 1907.3 L3027.0 1913.3 L3033.2 1919.3 L3038.9 1925.3 L3044.5 1931.3 L3049.9 1937.3 L3055.1 1943.3 L3060.2 1949.3 A456.75 456.75 0 0 1 2631.9 2691.2 L2624.2 2689.8 L2616.4 2688.2 L2608.5 2686.6 L2600.5 2684.7 L2592.4 2682.8 L2584.1 2680.4 L2575.6 2677.7 L2566.9 2674.6 L2558.0 2671.2 L2549.0 2667.6 L2540.0 2663.9 L2531.0 2660.3 L2522.0 2656.8 L2513.2 2653.5 L2504.5 2650.6 L2496.1 2648.0 L2487.9 2645.8 L2480.0 2644.0 L2472.2 2642.5 L2464.5 2641.2 L2456.9 2640.1 L2449.4 2639.0 L2441.9 2638.1 L2434.5 2637.3 L2427.2 2636.5 L2419.9 2635.9 L2412.7 2635.4 L2405.5 2635.0 L2398.4 2634.8 L2391.4 2634.6 L2384.5 2634.6 L2377.6 2634.7 L2370.9 2635.0 L2364.2 2635.4 L2357.6 2636.0 L2351.0 2636.7 L2344.6 2637.5 L2338.2 2638.5 L2331.9 2639.6 L2325.7 2640.9 L2319.6 2642.3 L2313.6 2643.9 L2307.7 2645.6 L2301.8 2647.5 L2296.1 2649.5 L2290.4 2651.6 L2284.8 2653.9 L2279.3 2656.4 L2273.8 2659.0 L2268.6 2661.8 L2263.4 2665.0 L2258.5 2668.4 L2253.6 2671.9 L2248.8 2675.6 L2244.1 2679.5 L2239.5 2683.5 L2234.9 2687.6 L2230.5 2691.9 L2226.1 2696.3 L2221.8 2700.9 L2217.6 2705.6 L2213.5 2710.5 L2209.5 2715.5 L2205.5 2720.7 L2201.7 2726.0 L2197.9 2731.4 L2194.2 2737.0 L2190.6 2742.7 L2187.0 2748.6 L2183.6 2754.6 L2180.2 2760.8 L2176.9 2767.0 L2173.6 2773.4 L2170.5 2779.9 L2167.4 2786.5 L2164.3 2793.3 L2161.3 2800.1 L2158.4 2807.0 L2155.5 2814.1 L2152.7 2821.2 L2150.0 2828.5 L2147.4 2836.0 L2145.0 2843.8 L2142.8 2852.0 L2140.8 2860.6 L2139.1 2869.5 L2137.5 2878.8 L2136.0 2888.3 L2134.7 2897.9 L2133.3 2907.6 L2131.9 2917.2 L2130.4 2926.6 L2128.8 2935.7 L2126.9 2944.4 L2124.8 2952.8 L2122.4 2960.7 L2120.0 2968.6 L2117.5 2976.2 L2115.0 2983.8 L2112.3 2991.2 A456.75 456.75 0 0 1 1255.7 2991.2 L1253.0 2983.8 L1250.5 2976.2 L1248.0 2968.6 L1245.6 2960.7 L1243.2 2952.8 L1241.1 2944.4 L1239.2 2935.7 L1237.6 2926.6 L1236.1 2917.2 L1234.7 2907.6 L1233.3 2897.9 L1232.0 2888.3 L1230.5 2878.8 L1228.9 2869.5 L1227.2 2860.6 L1225.2 2852.0 L1223.0 2843.8 L1220.6 2836.0 L1218.0 2828.5 L1215.3 2821.2 L1212.5 2814.1 L1209.6 2807.0 L1206.7 2800.1 L1203.7 2793.3 L1200.6 2786.5 L1197.5 2779.9 L1194.4 2773.4 L1191.1 2767.0 L1187.8 2760.8 L1184.4 2754.6 L1181.0 2748.6 L1177.4 2742.7 L1173.8 2737.0 L1170.1 2731.4 L1166.3 2726.0 L1162.5 2720.7 L1158.5 2715.5 L1154.5 2710.5 L1150.4 2705.6 L1146.2 2700.9 L1141.9 2696.3 L1137.5 2691.9 L1133.1 2687.6 L1128.5 2683.5 L1123.9 2679.5 L1119.2 2675.6 L1114.4 2671.9 L1109.5 2668.4 L1104.6 2665.0 L1099.4 2661.8 L1094.2 2659.0 L1088.7 2656.4 L1083.2 2653.9 L1077.6 2651.6 L1071.9 2649.5 L1066.2 2647.5 L1060.3 2645.6 L1054.4 2643.9 L1048.4 2642.3 L1042.3 2640.9 L1036.1 2639.6 L1029.8 2638.5 L1023.4 2637.5 L1017.0 2636.7 L1010.4 2636.0 L1003.8 2635.4 L997.1 2635.0 L990.4 2634.7 L983.5 2634.6 L976.6 2634.6 L969.6 2634.8 L962.5 2635.0 L955.3 2635.4 L948.1 2635.9 L940.8 2636.5 L933.5 2637.3 L926.1 2638.1 L918.6 2639.0 L911.1 2640.1 L903.5 2641.2 L895.8 2642.5 L888.0 2644.0 L880.1 2645.8 L871.9 2648.0 L863.5 2650.6 L854.8 2653.5 L846.0 2656.8 L837.0 2660.3 L828.0 2663.9 L819.0 2667.6 L810.0 2671.2 L801.1 2674.6 L792.4 2677.7 L783.9 2680.4 L775.6 2682.8 L767.5 2684.7 L759.5 2686.6 L751.6 2688.2 L743.8 2689.8 L736.1 2691.2 A456.75 456.75 0 0 1 307.8 1949.3 L312.9 1943.3 L318.1 1937.3 L323.5 1931.3 L329.1 1925.3 L334.8 1919.3 L341.0 1913.3 L347.6 1907.3 L354.7 1901.3 L362.1 1895.3 L369.7 1889.3 L377.4 1883.3 L385.0 1877.3 L392.5 1871.3 L399.8 1865.3 L406.7 1859.3 L413.1 1853.3 L419.0 1847.3 L424.6 1841.3 L429.8 1835.3 L434.8 1829.3 L439.6 1823.3 L444.2 1817.3 L448.8 1811.3 L453.2 1805.3 L457.5 1799.3 L461.7 1793.3 L465.7 1787.3 L469.6 1781.3 L473.4 1775.3 L477.0 1769.3 L480.5 1763.3 L483.8 1757.3 L487.0 1751.3 L489.9 1745.3 L492.8 1739.3 L495.4 1733.3 L497.9 1727.3 L500.3 1721.3 L502.4 1715.3 L504.4 1709.3 L506.3 1703.3 L507.9 1697.3 L509.4 1691.3 L510.7 1685.3 L511.8 1679.3 L512.8 1673.3 L513.6 1667.3 L514.3 1661.3 L514.7 1655.3 L514.9 1649.3 L514.7 1643.3 L514.3 1637.3 L513.6 1631.3 L512.8 1625.3 L511.8 1619.3 L510.7 1613.3 L509.4 1607.3 L507.9 1601.3 L506.3 1595.3 L504.4 1589.3 L502.4 1583.3 L500.3 1577.3 L497.9 1571.3 L495.4 1565.3 L492.8 1559.3 L489.9 1553.3 L487.0 1547.3 L483.8 1541.3 L480.5 1535.3 L477.0 1529.3 L473.4 1523.3 L469.6 1517.3 L465.7 1511.3 L461.7 1505.3 L457.5 1499.3 L453.2 1493.3 L448.8 1487.3 L444.2 1481.3 L439.6 1475.3 L434.8 1469.3 L429.8 1463.3 L424.6 1457.3 L419.0 1451.3 L413.1 1445.3 L406.7 1439.3 L399.8 1433.3 L392.5 1427.3 L385.0 1421.3 L377.4 1415.3 L369.7 1409.3 L362.1 1403.3 L354.7 1397.3 L347.6 1391.3 L341.0 1385.3 L334.8 1379.3 L329.1 1373.3 L323.5 1367.3 L318.1 1361.3 L312.9 1355.3 L307.8 1349.3 A456.75 456.75 0 0 1 736.1 607.5 L743.8 608.9 L751.6 610.5 L759.5 612.1 L767.5 614.0 L775.6 615.9 L783.9 618.3 L792.4 621.0 L801.1 624.1 L810.0 627.5 L819.0 631.1 L828.0 634.8 L837.0 638.4 L846.0 641.9 L854.8 645.2 L863.5 648.1 L871.9 650.7 L880.1 652.9 L888.0 654.7 L895.8 656.2 L903.5 657.5 L911.1 658.6 L918.6 659.7 L926.1 660.6 L933.5 661.4 L940.8 662.2 L948.1 662.8 L955.3 663.3 L962.5 663.7 L969.6 663.9 L976.6 664.1 L983.5 664.1 L990.4 664.0 L997.1 663.7 L1003.8 663.3 L1010.4 662.7 L1017.0 662.0 L1023.4 661.2 L1029.8 660.2 L1036.1 659.1 L1042.3 657.8 L1048.4 656.4 L1054.4 654.8 L1060.3 653.1 L1066.2 651.2 L1071.9 649.2 L1077.6 647.1 L1083.2 644.8 L1088.7 642.3 L1094.2 639.7 L1099.4 636.9 L1104.6 633.7 L1109.5 630.3 L1114.4 626.8 L1119.2 623.1 L1123.9 619.2 L1128.5 615.2 L1133.1 611.1 L1137.5 606.8 L1141.9 602.4 L1146.2 597.8 L1150.4 593.1 L1154.5 588.2 L1158.5 583.2 L1162.5 578.0 L1166.3 572.7 L1170.1 567.3 L1173.8 561.7 L1177.4 556.0 L1181.0 550.1 L1184.4 544.1 L1187.8 537.9 L1191.1 531.7 L1194.4 525.3 L1197.5 518.8 L1200.6 512.2 L1203.7 505.4 L1206.7 498.6 L1209.6 491.7 L1212.5 484.6 L1215.3 477.5 L1218.0 470.2 L1220.6 462.7 L1223.0 454.9 L1225.2 446.7 L1227.2 438.1 L1228.9 429.2 L1230.5 419.9 L1232.0 410.4 L1233.3 400.8 L1234.7 391.1 L1236.1 381.5 L1237.6 372.1 L1239.2 363.0 L1241.1 354.3 L1243.2 345.9 L1245.6 338.0 L1248.0 330.1 L1250.5 322.5 L1253.0 314.9 L1255.7 307.5 A456.75 456.75 0 0 1 2112.3 307.5 Z M1738.0 919.7 L1745.4 918.9 L1753.0 917.9 L1760.8 916.4 L1768.8 914.5 L1777.0 912.2 L1785.5 909.6 L1794.1 906.7 L1802.8 903.5 L1811.7 900.2 L1820.6 896.8 L1829.4 893.5 L1838.2 890.2 L1847.0 887.1 L1855.5 884.3 L1863.9 881.8 L1872.1 879.5 L1880.3 877.3 L1888.4 875.3 L1896.4 873.4 L1904.4 871.5 L1912.4 869.8 L1920.3 868.1 L1928.1 866.6 L1935.8 865.2 L1943.4 864.1 L1950.9 863.2 L1958.2 862.4 L1965.6 861.7 L1972.8 861.1 L1980.0 860.6 L1987.2 860.3 L1994.2 860.0 L2001.3 859.8 L2008.2 859.8 L2015.1 859.9 L2021.8 860.2 L2028.5 860.6 L2035.1 861.2 L2041.6 861.9 L2048.1 862.7 L2054.5 863.7 L2060.7 864.8 L2066.9 866.1 L2073.1 867.5 L2079.1 869.1 L2085.0 870.8 L2090.9 872.7 L2096.6 874.7 L2102.3 876.8 L2107.9 879.1 L2113.4 881.6 L2118.8 884.2 L2124.1 887.0 L2129.2 890.2 L2134.2 893.6 L2139.1 897.1 L2143.9 900.8 L2148.6 904.7 L2153.2 908.7 L2157.8 912.8 L2162.2 917.1 L2166.6 921.5 L2170.9 926.1 L2175.1 930.8 L2179.2 935.7 L2183.2 940.7 L2187.1 945.9 L2191.0 951.2 L2194.8 956.6 L2198.5 962.2 L2202.1 967.9 L2205.7 973.8 L2209.1 979.8 L2212.5 986.0 L2215.8 992.3 L2219.0 998.6 L2222.2 1005.1 L2225.4 1011.7 L2228.4 1018.4 L2231.4 1025.2 L2234.4 1032.1 L2237.2 1039.2 L2239.9 1046.6 L2242.5 1054.1 L2245.0 1061.8 L2247.4 1069.5 L2249.8 1077.4 L2252.1 1085.3 L2254.4 1093.3 L2256.7 1101.5 L2258.8 1109.8 L2260.8 1118.3 L2262.6 1127.1 L2264.3 1136.2 L2265.9 1145.5 L2267.4 1154.8 L2268.9 1164.2 L2270.5 1173.5 L2272.1 1182.7 L2273.9 1191.6 L2275.9 1200.2 L2278.0 1208.5 L2280.4 1216.4 L2283.0 1223.9 L2285.8 1230.9 L2288.8 1237.7 A456.75 456.75 0 0 0 2342.9 1331.3 L2347.3 1337.3 L2352.0 1343.3 L2357.1 1349.3 L2362.8 1355.3 L2368.9 1361.3 L2375.4 1367.3 L2382.2 1373.3 L2389.3 1379.3 L2396.6 1385.3 L2404.0 1391.3 L2411.3 1397.3 L2418.6 1403.3 L2425.6 1409.3 L2432.3 1415.3 L2438.7 1421.3 L2444.8 1427.3 L2450.7 1433.3 L2456.5 1439.3 L2462.2 1445.3 L2467.8 1451.3 L2473.4 1457.3 L2478.7 1463.3 L2484.0 1469.3 L2489.0 1475.3 L2493.7 1481.3 L2498.3 1487.3 L2502.7 1493.3 L2506.9 1499.3 L2511.0 1505.3 L2515.0 1511.3 L2519.0 1517.3 L2522.7 1523.3 L2526.4 1529.3 L2529.9 1535.3 L2533.2 1541.3 L2536.3 1547.3 L2539.3 1553.3 L2542.1 1559.3 L2544.8 1565.3 L2547.3 1571.3 L2549.6 1577.3 L2551.8 1583.3 L2553.8 1589.3 L2555.6 1595.3 L2557.3 1601.3 L2558.8 1607.3 L2560.1 1613.3 L2561.2 1619.3 L2562.2 1625.3 L2563.0 1631.3 L2563.6 1637.3 L2564.1 1643.3 L2564.2 1649.3 L2564.1 1655.3 L2563.6 1661.3 L2563.0 1667.3 L2562.2 1673.3 L2561.2 1679.3 L2560.1 1685.3 L2558.8 1691.3 L2557.3 1697.3 L2555.6 1703.3 L2553.8 1709.3 L2551.8 1715.3 L2549.6 1721.3 L2547.3 1727.3 L2544.8 1733.3 L2542.1 1739.3 L2539.3 1745.3 L2536.3 1751.3 L2533.2 1757.3 L2529.9 1763.3 L2526.4 1769.3 L2522.7 1775.3 L2519.0 1781.3 L2515.0 1787.3 L2511.0 1793.3 L2506.9 1799.3 L2502.7 1805.3 L2498.3 1811.3 L2493.7 1817.3 L2489.0 1823.3 L2484.0 1829.3 L2478.7 1835.3 L2473.4 1841.3 L2467.8 1847.3 L2462.2 1853.3 L2456.5 1859.3 L2450.7 1865.3 L2444.8 1871.3 L2438.7 1877.3 L2432.3 1883.3 L2425.6 1889.3 L2418.6 1895.3 L2411.3 1901.3 L2404.0 1907.3 L2396.6 1913.3 L2389.3 1919.3 L2382.2 1925.3 L2375.4 1931.3 L2368.9 1937.3 L2362.8 1943.3 L2357.1 1949.3 L2352.0 1955.3 L2347.3 1961.3 L2342.9 1967.3 A456.75 456.75 0 0 0 2288.8 2061.0 L2285.8 2067.8 L2283.0 2074.8 L2280.4 2082.3 L2278.0 2090.2 L2275.9 2098.5 L2273.9 2107.1 L2272.1 2116.0 L2270.5 2125.2 L2268.9 2134.5 L2267.4 2143.9 L2265.9 2153.2 L2264.3 2162.5 L2262.6 2171.6 L2260.8 2180.4 L2258.8 2188.9 L2256.7 2197.2 L2254.4 2205.4 L2252.1 2213.4 L2249.8 2221.3 L2247.4 2229.2 L2245.0 2236.9 L2242.5 2244.6 L2239.9 2252.1 L2237.2 2259.5 L2234.4 2266.6 L2231.4 2273.5 L2228.4 2280.3 L2225.4 2287.0 L2222.2 2293.6 L2219.0 2300.1 L2215.8 2306.4 L2212.5 2312.7 L2209.1 2318.9 L2205.7 2324.9 L2202.1 2330.8 L2198.5 2336.5 L2194.8 2342.1 L2191.0 2347.5 L2187.1 2352.8 L2183.2 2358.0 L2179.2 2363.0 L2175.1 2367.9 L2170.9 2372.6 L2166.6 2377.2 L2162.2 2381.6 L2157.8 2385.9 L2153.2 2390.0 L2148.6 2394.0 L2143.9 2397.9 L2139.1 2401.6 L2134.2 2405.1 L2129.2 2408.5 L2124.1 2411.7 L2118.8 2414.5 L2113.4 2417.1 L2107.9 2419.6 L2102.3 2421.9 L2096.6 2424.0 L2090.9 2426.0 L2085.0 2427.9 L2079.1 2429.6 L2073.1 2431.2 L2066.9 2432.6 L2060.7 2433.9 L2054.5 2435.0 L2048.1 2436.0 L2041.6 2436.8 L2035.1 2437.5 L2028.5 2438.1 L2021.8 2438.5 L2015.1 2438.8 L2008.2 2438.9 L2001.3 2438.9 L1994.2 2438.7 L1987.2 2438.4 L1980.0 2438.1 L1972.8 2437.6 L1965.6 2437.0 L1958.2 2436.3 L1950.9 2435.5 L1943.4 2434.6 L1935.8 2433.5 L1928.1 2432.1 L1920.3 2430.6 L1912.4 2428.9 L1904.4 2427.2 L1896.4 2425.3 L1888.4 2423.4 L1880.3 2421.4 L1872.1 2419.2 L1863.9 2416.9 L1855.5 2414.4 L1847.0 2411.6 L1838.2 2408.5 L1829.4 2405.2 L1820.6 2401.9 L1811.7 2398.5 L1802.8 2395.2 L1794.1 2392.0 L1785.5 2389.1 L1777.0 2386.5 L1768.8 2384.2 L1760.8 2382.3 L1753.0 2380.8 L1745.4 2379.8 L1738.0 2379.0 A456.75 456.75 0 0 0 1630.0 2379.0 L1622.6 2379.8 L1615.0 2380.8 L1607.2 2382.3 L1599.2 2384.2 L1591.0 2386.5 L1582.5 2389.1 L1573.9 2392.0 L1565.2 2395.2 L1556.3 2398.5 L1547.4 2401.9 L1538.6 2405.2 L1529.8 2408.5 L1521.0 2411.6 L1512.5 2414.4 L1504.1 2416.9 L1495.9 2419.2 L1487.7 2421.4 L1479.6 2423.4 L1471.6 2425.3 L1463.6 2427.2 L1455.6 2428.9 L1447.7 2430.6 L1439.9 2432.1 L1432.2 2433.5 L1424.6 2434.6 L1417.1 2435.5 L1409.8 2436.3 L1402.4 2437.0 L1395.2 2437.6 L1388.0 2438.1 L1380.8 2438.4 L1373.8 2438.7 L1366.7 2438.9 L1359.8 2438.9 L1352.9 2438.8 L1346.2 2438.5 L1339.5 2438.1 L1332.9 2437.5 L1326.4 2436.8 L1319.9 2436.0 L1313.5 2435.0 L1307.3 2433.9 L1301.1 2432.6 L1294.9 2431.2 L1288.9 2429.6 L1283.0 2427.9 L1277.1 2426.0 L1271.4 2424.0 L1265.7 2421.9 L1260.1 2419.6 L1254.6 2417.1 L1249.2 2414.5 L1243.9 2411.7 L1238.8 2408.5 L1233.8 2405.1 L1228.9 2401.6 L1224.1 2397.9 L1219.4 2394.0 L1214.8 2390.0 L1210.2 2385.9 L1205.8 2381.6 L1201.4 2377.2 L1197.1 2372.6 L1192.9 2367.9 L1188.8 2363.0 L1184.8 2358.0 L1180.9 2352.8 L1177.0 2347.5 L1173.2 2342.1 L1169.5 2336.5 L1165.9 2330.8 L1162.3 2324.9 L1158.9 2318.9 L1155.5 2312.7 L1152.2 2306.4 L1149.0 2300.1 L1145.8 2293.6 L1142.6 2287.0 L1139.6 2280.3 L1136.6 2273.5 L1133.6 2266.6 L1130.8 2259.5 L1128.1 2252.1 L1125.5 2244.6 L1123.0 2236.9 L1120.6 2229.2 L1118.2 2221.3 L1115.9 2213.4 L1113.6 2205.4 L1111.3 2197.2 L1109.2 2188.9 L1107.2 2180.4 L1105.4 2171.6 L1103.7 2162.5 L1102.1 2153.2 L1100.6 2143.9 L1099.1 2134.5 L1097.5 2125.2 L1095.9 2116.0 L1094.1 2107.1 L1092.1 2098.5 L1090.0 2090.2 L1087.6 2082.3 L1085.0 2074.8 L1082.2 2067.8 L1079.2 2061.0 A456.75 456.75 0 0 0 1025.1 1967.3 L1020.7 1961.3 L1016.0 1955.3 L1010.9 1949.3 L1005.2 1943.3 L999.1 1937.3 L992.6 1931.3 L985.8 1925.3 L978.7 1919.3 L971.4 1913.3 L964.0 1907.3 L956.7 1901.3 L949.4 1895.3 L942.4 1889.3 L935.7 1883.3 L929.3 1877.3 L923.2 1871.3 L917.3 1865.3 L911.5 1859.3 L905.8 1853.3 L900.2 1847.3 L894.6 1841.3 L889.3 1835.3 L884.0 1829.3 L879.0 1823.3 L874.3 1817.3 L869.7 1811.3 L865.3 1805.3 L861.1 1799.3 L857.0 1793.3 L853.0 1787.3 L849.0 1781.3 L845.3 1775.3 L841.6 1769.3 L838.1 1763.3 L834.8 1757.3 L831.7 1751.3 L828.7 1745.3 L825.9 1739.3 L823.2 1733.3 L820.7 1727.3 L818.4 1721.3 L816.2 1715.3 L814.2 1709.3 L812.4 1703.3 L810.7 1697.3 L809.2 1691.3 L807.9 1685.3 L806.8 1679.3 L805.8 1673.3 L805.0 1667.3 L804.4 1661.3 L803.9 1655.3 L803.8 1649.3 L803.9 1643.3 L804.4 1637.3 L805.0 1631.3 L805.8 1625.3 L806.8 1619.3 L807.9 1613.3 L809.2 1607.3 L810.7 1601.3 L812.4 1595.3 L814.2 1589.3 L816.2 1583.3 L818.4 1577.3 L820.7 1571.3 L823.2 1565.3 L825.9 1559.3 L828.7 1553.3 L831.7 1547.3 L834.8 1541.3 L838.1 1535.3 L841.6 1529.3 L845.3 1523.3 L849.0 1517.3 L853.0 1511.3 L857.0 1505.3 L861.1 1499.3 L865.3 1493.3 L869.7 1487.3 L874.3 1481.3 L879.0 1475.3 L884.0 1469.3 L889.3 1463.3 L894.6 1457.3 L900.2 1451.3 L905.8 1445.3 L911.5 1439.3 L917.3 1433.3 L923.2 1427.3 L929.3 1421.3 L935.7 1415.3 L942.4 1409.3 L949.4 1403.3 L956.7 1397.3 L964.0 1391.3 L971.4 1385.3 L978.7 1379.3 L985.8 1373.3 L992.6 1367.3 L999.1 1361.3 L1005.2 1355.3 L1010.9 1349.3 L1016.0 1343.3 L1020.7 1337.3 L1025.1 1331.3 A456.75 456.75 0 0 0 1079.2 1237.7 L1082.2 1230.9 L1085.0 1223.9 L1087.6 1216.4 L1090.0 1208.5 L1092.1 1200.2 L1094.1 1191.6 L1095.9 1182.7 L1097.5 1173.5 L1099.1 1164.2 L1100.6 1154.8 L1102.1 1145.5 L1103.7 1136.2 L1105.4 1127.1 L1107.2 1118.3 L1109.2 1109.8 L1111.3 1101.5 L1113.6 1093.3 L1115.9 1085.3 L1118.2 1077.4 L1120.6 1069.5 L1123.0 1061.8 L1125.5 1054.1 L1128.1 1046.6 L1130.8 1039.2 L1133.6 1032.1 L1136.6 1025.2 L1139.6 1018.4 L1142.6 1011.7 L1145.8 1005.1 L1149.0 998.6 L1152.2 992.3 L1155.5 986.0 L1158.9 979.8 L1162.3 973.8 L1165.9 967.9 L1169.5 962.2 L1173.2 956.6 L1177.0 951.2 L1180.9 945.9 L1184.8 940.7 L1188.8 935.7 L1192.9 930.8 L1197.1 926.1 L1201.4 921.5 L1205.8 917.1 L1210.2 912.8 L1214.8 908.7 L1219.4 904.7 L1224.1 900.8 L1228.9 897.1 L1233.8 893.6 L1238.8 890.2 L1243.9 887.0 L1249.2 884.2 L1254.6 881.6 L1260.1 879.1 L1265.7 876.8 L1271.4 874.7 L1277.1 872.7 L1283.0 870.8 L1288.9 869.1 L1294.9 867.5 L1301.1 866.1 L1307.3 864.8 L1313.5 863.7 L1319.9 862.7 L1326.4 861.9 L1332.9 861.2 L1339.5 860.6 L1346.2 860.2 L1352.9 859.9 L1359.8 859.8 L1366.7 859.8 L1373.8 860.0 L1380.8 860.3 L1388.0 860.6 L1395.2 861.1 L1402.4 861.7 L1409.8 862.4 L1417.1 863.2 L1424.6 864.1 L1432.2 865.2 L1439.9 866.6 L1447.7 868.1 L1455.6 869.8 L1463.6 871.5 L1471.6 873.4 L1479.6 875.3 L1487.7 877.3 L1495.9 879.5 L1504.1 881.8 L1512.5 884.3 L1521.0 887.1 L1529.8 890.2 L1538.6 893.5 L1547.4 896.8 L1556.3 900.2 L1565.2 903.5 L1573.9 906.7 L1582.5 909.6 L1591.0 912.2 L1599.2 914.5 L1607.2 916.4 L1615.0 917.9 L1622.6 918.9 L1630.0 919.7 A456.75 456.75 0 0 0 1738.0 919.7 Z"/>
<g clip-path="url(#blobclip)">
<g filter="url(#cg)"><circle cx="1647.0" cy="427.5" r="347.0" fill="#fff" fill-opacity="0.85"/></g>
<g filter="url(#cg)"><circle cx="2678.0" cy="1021.6" r="347.0" fill="#fff" fill-opacity="0.85"/></g>
<g filter="url(#cg)"><circle cx="2678.0" cy="2209.0" r="347.0" fill="#fff" fill-opacity="0.85"/></g>
<g filter="url(#cg)"><circle cx="1653.0" cy="2799.6" r="347.0" fill="#fff" fill-opacity="0.85"/></g>
<g filter="url(#cg)"><circle cx="628.0" cy="2208.5" r="347.0" fill="#fff" fill-opacity="0.85"/></g>
<g filter="url(#cg)"><circle cx="627.5" cy="1021.0" r="347.0" fill="#fff" fill-opacity="0.85"/></g>
<g filter="url(#cs)"><circle cx="1695.0" cy="492.5" r="346.0" fill="#000" fill-opacity="0.15"/></g>
<g filter="url(#cs)"><circle cx="2726.0" cy="1086.6" r="346.0" fill="#000" fill-opacity="0.15"/></g>
<g filter="url(#cs)"><circle cx="2726.0" cy="2274.0" r="346.0" fill="#000" fill-opacity="0.15"/></g>
<g filter="url(#cs)"><circle cx="1701.0" cy="2864.6" r="346.0" fill="#000" fill-opacity="0.15"/></g>
<g filter="url(#cs)"><circle cx="676.0" cy="2273.5" r="346.0" fill="#000" fill-opacity="0.15"/></g>
<g filter="url(#cs)"><circle cx="675.5" cy="1086.0" r="346.0" fill="#000" fill-opacity="0.15"/></g>
</g>
<circle cx="1671.5" cy="458.3" r="344.0" fill="#ffcbb5"/>
<circle cx="1669.0" cy="457.5" r="344.0" fill="#f06262"/>
<circle cx="2702.5" cy="1052.4" r="344.0" fill="#ffcbb5"/>
<circle cx="2700.0" cy="1051.6" r="344.0" fill="#c86dd9"/>
<circle cx="2702.5" cy="2239.8" r="344.0" fill="#ffcbb5"/>
<circle cx="2700.0" cy="2239.0" r="344.0" fill="#51be78"/>
<circle cx="1673.0" cy="2828.1" r="344.0" fill="#ffcbb5"/>
<circle cx="1675.0" cy="2829.6" r="344.0" fill="#1f86e8"/>
<circle cx="652.5" cy="2239.3" r="344.0" fill="#ffcbb5"/>
<circle cx="650.0" cy="2238.5" r="344.0" fill="#ff9759"/>
<circle cx="652.0" cy="1051.8" r="344.0" fill="#ffcbb5"/>
<circle cx="649.5" cy="1051.0" r="344.0" fill="#5e17eb"/>
<g transform="translate(1570 260) scale(0.10352)" fill="none" stroke="#fff" stroke-width="52" stroke-linejoin="round">
<path stroke-linejoin="miter" d="M958,205 L1392,450 L1392,925 L958,1175 L525,925 L525,450 Z M525,450 L958,690 L1392,450 M958,690 L958,1175 M742,563 L1142,335"/>
<rect x="1040" y="962" width="56" height="56" fill="#fff" stroke="none"/>
<rect x="1149" y="908" width="56" height="56" fill="#fff" stroke="none"/>
<rect x="1257" y="852" width="56" height="56" fill="#fff" stroke="none"/>
<g><path d="M440,1800 L440,1665 L205,1240 Q172,1180 172,1120 L172,610 A80,80 0 0 1 333,610 L333,1005"/><path d="M550,1365 L334,1113 A72,72 0 0 1 436,1011 L625,1215 C760,1285 822,1410 822,1560 L822,1800"/></g>
<g transform="translate(1916 0) scale(-1 1)"><path d="M440,1800 L440,1665 L205,1240 Q172,1180 172,1120 L172,610 A80,80 0 0 1 333,610 L333,1005"/><path d="M550,1365 L334,1113 A72,72 0 0 1 436,1011 L625,1215 C760,1285 822,1410 822,1560 L822,1800"/></g>
</g>
<g transform="translate(2620 770) scale(0.08799)" fill="none" stroke="#fff" stroke-width="52" stroke-linejoin="miter">
<path d="M1520,690 L1520,395 L1370,240 L238,240 L238,1880 L1520,1880 L1520,1300 M1305,240 L1305,450 L1520,450"/>
<rect x="1494" y="1196" width="52" height="52" fill="#fff" stroke="none"/>
<path d="M1083.2,422.1 A298,298 0 1 1 984.8,361.1"/>
<path d="M730,668 L810,748 L1025,530"/>
<path stroke-linejoin="round" d="M395,1030 L345,1030 L345,1195 L505,1195 L505,1150"/>
<path d="M420,1112 L558,981.59"/>
<path d="M610,1115 L990,1115"/>
<path stroke-linejoin="round" d="M395,1322 L345,1322 L345,1487 L505,1487 L505,1442"/>
<path d="M420,1404 L558,1273.59"/>
<path d="M610,1407 L880,1407"/>
<rect x="932" y="1379" width="56" height="56" fill="#fff" stroke="none"/>
<path stroke-linejoin="round" d="M395,1615 L345,1615 L345,1780 L505,1780 L505,1735"/>
<path d="M420,1697 L570,1555.25"/>
<path d="M610,1700 L1040,1700"/>
<path stroke-linejoin="round" fill="#c86dd9" d="M1025.0,1420.0 L1073.8,1256.7 L1587.9,742.6 A81,81 0 0 1 1702.4,857.1 L1188.3,1371.2 Z"/>
<path d="M1083.0,1247.5 L1197.5,1362.0 M1153.7,1176.8 L1268.2,1291.3 M1515.0,815.4 L1629.6,930.0"/>
<path stroke-linejoin="round" fill="#fff" d="M1025.0,1420.0 L1054.0,1328.8 L1116.2,1391.0 Z"/>
</g>
<g transform="translate(2620 1960) scale(0.08282)" fill="none" stroke="#fff" stroke-width="98" stroke-linejoin="miter">
<path d="M588,620 A372,390 0 0 1 1332,620"/>
<path d="M362,627 L1560,627 L1641,1605 A172,172 0 0 1 1470,1785 L452,1785 A172,172 0 0 1 281,1605 Z"/>
<path stroke-width="94" d="M752,1160 L910,1318 L1175,1055"/>
</g>
<g transform="translate(1585 2645) scale(0.10352)" fill="none" stroke="#fff" stroke-width="55" stroke-linejoin="round">
<defs><clipPath id="i4c"><rect x="0" y="0" width="1950" height="682"/></clipPath></defs>
<g clip-path="url(#i4c)" stroke-linejoin="miter">
<path d="M478.1,579.7 L395.8,532.2 L502.8,346.8 L585.1,394.3 A28,28 0 0 0 626.3,353.1 L578.8,270.8 L764.2,163.8 L811.7,246.1 A28,28 0 0 0 868.0,231.0 L868.0,136.0 L1082.0,136.0 L1082.0,231.0 A28,28 0 0 0 1138.3,246.1 L1185.8,163.8 L1371.2,270.8 L1323.7,353.1 A28,28 0 0 0 1364.9,394.3 L1447.2,346.8 L1554.2,532.2 L1471.9,579.7"/>
<path d="M478,586 Q520,620 505,690 M1472,586 Q1430,620 1445,690"/>
<circle cx="975" cy="743" r="445"/><circle cx="975" cy="743" r="333"/><circle cx="975" cy="743" r="168"/>
<path d="M975,410 L975,575 M740,508 L856,624 M1210,508 L1094,624"/>
</g>
<path d="M465,242 L235,242 A58,58 0 0 0 235,358 L270,358 A55,55 0 0 1 270,468 L258,468 A52,52 0 0 0 258,572 L360,572" stroke-linecap="butt"/>
<g transform="translate(1950 0) scale(-1 1)"><path d="M465,242 L235,242 A58,58 0 0 0 235,358 L270,358 A55,55 0 0 1 270,468 L258,468 A52,52 0 0 0 258,572 L360,572" stroke-linecap="butt"/></g>
<path stroke-linejoin="miter" d="M333,955 L225,680 L835,680 C890,720 920,830 975,950 M1670,955 L1780,680 L1115,680 C1060,720 1030,830 975,950"/>
<path stroke-linejoin="miter" d="M333,1390 L333,955 L1670,955 L1670,1715 Q1670,1770 1615,1770 L1160,1770 M975,900 L975,1290"/>
<rect x="172" y="1390" width="373" height="380" stroke-linejoin="miter"/>
<path fill="#1f86e8" d="M560,1410 C640,1290 700,1268 780,1243 C830,1226 860,1182 895,1171 A47,47 0 0 1 946,1240 L890,1335 L1140,1335 A55,55 0 0 1 1140,1445 L1200,1445 A55,55 0 0 1 1200,1555 L1150,1555 A54,54 0 0 1 1150,1662 L1100,1662 A54,54 0 0 1 1100,1770 L700,1770 C650,1770 600,1750 560,1725 Z"/>
<path d="M950,1445 L1140,1445 M975,1555 L1150,1555 M950,1662 L1100,1662"/>
<rect x="1269" y="1634" width="56" height="56" fill="#fff" stroke="none"/>
<rect x="1377" y="1634" width="56" height="56" fill="#fff" stroke="none"/>
<rect x="1485" y="1634" width="56" height="56" fill="#fff" stroke="none"/>
</g>
<g transform="translate(540 1960) scale(0.13458)" fill="none" stroke="#fff" stroke-width="60" stroke-linejoin="round">
<path stroke-linejoin="miter" d="M818.0,332.0 L818.0,262.0 L1058.0,262.0 L1058.0,332.0 A67,67 0 0 0 1186.6,366.5 L1221.6,305.8 L1429.4,425.8 L1394.4,486.5 A67,67 0 0 0 1488.5,580.6 L1549.2,545.6 L1669.2,753.4 L1608.5,788.4 A67,67 0 0 0 1643.0,917.0 L1713.0,917.0 L1713.0,1157.0 L1643.0,1157.0 A67,67 0 0 0 1608.5,1285.6 L1669.2,1320.6 L1549.2,1528.4 L1488.5,1493.4 A67,67 0 0 0 1394.4,1587.5 L1429.4,1648.2 L1221.6,1768.2 L1186.6,1707.5 A67,67 0 0 0 1058.0,1742.0 L1058.0,1812.0 L818.0,1812.0 L818.0,1742.0 A67,67 0 0 0 689.4,1707.5 L654.4,1768.2 L446.6,1648.2 L481.6,1587.5 A67,67 0 0 0 387.5,1493.4 L326.8,1528.4 L206.8,1320.6 L267.5,1285.6 A67,67 0 0 0 233.0,1157.0 L163.0,1157.0 L163.0,917.0 L233.0,917.0 A67,67 0 0 0 267.5,788.4 L206.8,753.4 L326.8,545.6 L387.5,580.6 A67,67 0 0 0 481.6,486.5 L446.6,425.8 L654.4,305.8 L689.4,366.5 A67,67 0 0 0 818.0,332.0 Z"/>
<circle cx="935" cy="1038" r="568"/>
<path d="M603,708 L1213,708 Q1263,708 1263,758 L1263,1368 L650,1368 Q603,1368 603,1320 Z"/>
<path d="M783,708 L783,770 Q783,828 840,828 L1030,828 Q1085,828 1085,770 L1085,708 M935,708 L935,828"/>
<rect x="691" y="1217" width="62" height="62" fill="#fff" stroke="none"/>
<rect x="814" y="1217" width="62" height="62" fill="#fff" stroke="none"/>
<path d="M271,621 C135,500 135,140 420,140 L548,140 C833,140 833,500 693,621 L622,690 L575,690 L575,745 A105,105 0 0 1 365,745 L365,690 L342,690 Z" stroke="#ff9759" stroke-width="125" fill="#ff9759"/>
<path d="M271,621 C135,500 135,140 420,140 L548,140 C833,140 833,500 693,621 L622,690 L575,690 L575,745 A105,105 0 0 1 365,745 L365,690 L342,690 Z"/>
<path d="M365,680 L575,680"/>
<circle cx="363" cy="378" r="60"/><circle cx="603" cy="378" r="60"/>
<path d="M423,378 L423,680 M543,378 L543,680 M363,438 L603,438"/>
<path d="M603,900 L603,708 L900,708"/>
<path d="M1415,1250 L1715,1368 L1715,1790 L1415,1910 L1115,1790 L1115,1368 Z" stroke="#ff9759" stroke-width="125" fill="#ff9759" stroke-linejoin="miter"/>
<path d="M1415,1250 L1715,1368 L1715,1790 L1415,1910 L1115,1790 L1115,1368 Z" stroke-linejoin="miter"/>
<path d="M1115,1368 L1000,1368 M1263,1310 L1263,1200" />
<path stroke-linejoin="miter" d="M1265,1610 L1355,1698 L1595,1460"/>
</g>
<g transform="translate(480 840) scale(0.14493)" fill="none" stroke="#fff" stroke-width="28" stroke-linejoin="round" stroke-linecap="round">
<path d="M125,625 L1525,625 L1525,1055 L125,1055 Z M125,625 L480,170 L1775,170 L1525,625 M1775,170 L1775,600 L1525,1055"/>
<path d="M955,570 L1060,420 L1530,420 L1450,570 Z"/>
<rect x="935" y="758" width="480" height="190"/>
<path d="M988,800 L988,895 M1038,800 L1038,905 M1083,800 L1083,895"/>
<path d="M310,352 L1590,352 Q1700,360 1700,470 L1700,800" stroke="#fff" stroke-width="84"/><path d="M310,352 L1590,352 Q1700,360 1700,470 L1700,800" stroke="#5e17eb" stroke-width="30"/>
<path d="M1010,150 L905,350 L720,640 L720,1050 L760,1058" stroke="#fff" stroke-width="84"/><path d="M1010,150 L905,350 L720,640 L720,1050 L760,1058" stroke="#5e17eb" stroke-width="30"/>
<path d="M915,340 C780,255 565,250 548,340 C545,430 720,420 915,345" stroke="#fff" stroke-width="84"/><path d="M915,340 C780,255 565,250 548,340 C545,430 720,420 915,345" stroke="#5e17eb" stroke-width="30"/>
<path d="M925,335 C1000,270 1250,185 1288,270 C1300,350 1100,365 925,345" stroke="#fff" stroke-width="84"/><path d="M925,335 C1000,270 1250,185 1288,270 C1300,350 1100,365 925,345" stroke="#5e17eb" stroke-width="30"/>
</g>
<text transform="translate(1392.23 569.95) scale(1.0045 1)" font-size="92.32" stroke="#fff" stroke-width="1.5" stroke-linejoin="round">1.TOMADOR</text>
<text transform="translate(2512.98 1049.85) scale(0.9866 1)" font-size="59.57" stroke="#fff" stroke-width="1.5" stroke-linejoin="round">2.PEDIDO DE</text>
<text transform="translate(2570.07 1134.25) scale(0.9880 1)" font-size="59.57" stroke="#fff" stroke-width="1.5" stroke-linejoin="round">COMPRA</text>
<text transform="translate(2408.68 1218.65) scale(0.9913 1)" font-size="59.57" stroke="#fff" stroke-width="1.5" stroke-linejoin="round">INDUSTRIALIZAÇÃO</text>
<text transform="translate(2465.13 2243.75) scale(1.0242 1)" font-size="68.84" stroke="#fff" stroke-width="1.5" stroke-linejoin="round">3. ENVIO DOS</text>
<text transform="translate(2407.61 2344.15) scale(1.0101 1)" font-size="68.84" stroke="#fff" stroke-width="1.5" stroke-linejoin="round">MATERIAIS PARA</text>
<text transform="translate(2530.95 2444.25) scale(0.9502 1)" font-size="68.84" stroke="#fff" stroke-width="1.5" stroke-linejoin="round">TERCEIRO</text>
<text transform="translate(1431.71 2961.25) scale(0.9439 1)" font-size="73.33" stroke="#fff" stroke-width="1.5" stroke-linejoin="round">4.PRESTADOR</text>
<text transform="translate(359.24 2344.25) scale(1.0029 1)" font-size="75.80" stroke="#fff" stroke-width="1.5" stroke-linejoin="round">5. MANUFATURA</text>
<text transform="translate(402.10 1092.95) scale(0.9773 1)" font-size="68.26" stroke="#fff" stroke-width="1.5" stroke-linejoin="round">6.DEVOLUÇÃO</text>
<text transform="translate(483.46 1187.05) scale(0.9223 1)" font-size="68.26" stroke="#fff" stroke-width="1.5" stroke-linejoin="round">EFETIVA E</text>
<text transform="translate(456.57 1279.45) scale(0.9836 1)" font-size="68.26" stroke="#fff" stroke-width="1.5" stroke-linejoin="round">SIMBÓLICA</text>
<g fill="none" stroke="#636363" stroke-width="15.5" stroke-linecap="round" stroke-linejoin="round">
<path d="M1126.0 765.9 L1207.9 703.4 M1169.3 703.2 L1207.9 703.4 L1197.9 740.7"/>
<path d="M2183.8 725.7 L2264.9 789.4 M2255.5 752.0 L2264.9 789.4 L2226.3 789.1"/>
<path d="M2707.5 1635.0 L2707.5 1738.0 M2731.1 1707.5 L2707.5 1738.0 L2683.9 1707.5"/>
<path d="M2266.5 2496.5 L2180.3 2554.0 M2218.8 2556.7 L2180.3 2554.0 L2192.6 2517.4"/>
<path d="M1223.8 2572.3 L1132.6 2522.6 M1148.1 2557.9 L1132.6 2522.6 L1170.7 2516.5"/>
<path d="M657.8 1739.6 L657.8 1636.7 M634.1 1667.2 L657.8 1636.7 L681.4 1667.2"/>
</g>
</svg>
</body>
</html>
